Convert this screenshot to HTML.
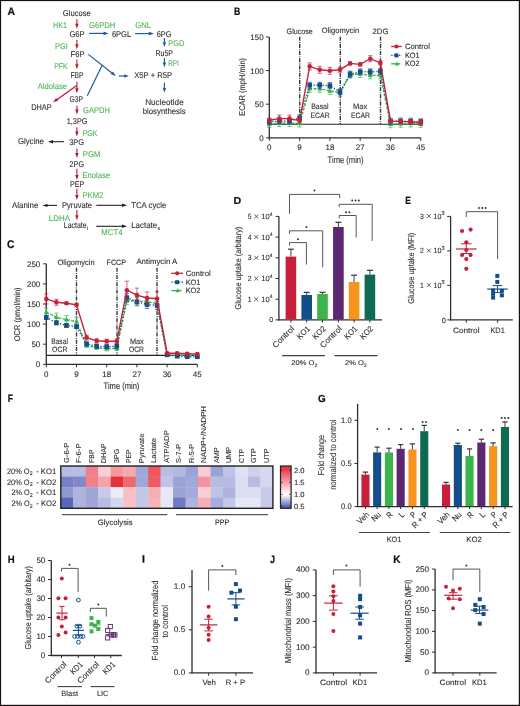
<!DOCTYPE html>
<html><head><meta charset="utf-8"><title>Figure</title>
<style>
html,body{margin:0;padding:0;background:#fff;}
body{width:520px;height:706px;overflow:hidden;}
svg{display:block;will-change:transform;font-family:"Liberation Sans",sans-serif;text-rendering:geometricPrecision;}
</style></head><body>
<svg width="520" height="706" viewBox="0 0 520 706">
<rect x="0" y="0" width="520" height="706" fill="#fff"/>
<text x="7.4" y="15.3" font-size="10.89" font-weight="bold" fill="#111" stroke="#111" stroke-width="0.2" textLength="7.5" lengthAdjust="spacingAndGlyphs">A</text>
<text x="62.8" y="15.7" font-size="8.4" fill="#2e2e2e" textLength="28" lengthAdjust="spacingAndGlyphs" stroke="#2e2e2e" stroke-width="0.1">Glucose</text>
<text x="69.4" y="36.5" font-size="8.4" fill="#2e2e2e" textLength="15.2" lengthAdjust="spacingAndGlyphs" stroke="#2e2e2e" stroke-width="0.1">G6P</text>
<text x="111.9" y="36.6" font-size="8.4" fill="#2e2e2e" textLength="19.3" lengthAdjust="spacingAndGlyphs" stroke="#2e2e2e" stroke-width="0.1">6PGL</text>
<text x="156.7" y="36.6" font-size="8.4" fill="#2e2e2e" textLength="14.8" lengthAdjust="spacingAndGlyphs" stroke="#2e2e2e" stroke-width="0.1">6PG</text>
<text x="155.4" y="56.3" font-size="8.4" fill="#2e2e2e" textLength="17.6" lengthAdjust="spacingAndGlyphs" stroke="#2e2e2e" stroke-width="0.1">Ru5P</text>
<text x="70.5" y="57" font-size="8.4" fill="#2e2e2e" textLength="14.1" lengthAdjust="spacingAndGlyphs" stroke="#2e2e2e" stroke-width="0.1">F6P</text>
<text x="70.4" y="77.9" font-size="8.4" fill="#2e2e2e" textLength="13.1" lengthAdjust="spacingAndGlyphs" stroke="#2e2e2e" stroke-width="0.1">FBP</text>
<text x="69.6" y="101.9" font-size="8.4" fill="#2e2e2e" textLength="13.5" lengthAdjust="spacingAndGlyphs" stroke="#2e2e2e" stroke-width="0.1">G3P</text>
<text x="31.2" y="110" font-size="8.4" fill="#2e2e2e" textLength="20.5" lengthAdjust="spacingAndGlyphs" stroke="#2e2e2e" stroke-width="0.1">DHAP</text>
<text x="134.2" y="78.3" font-size="8.4" fill="#2e2e2e" textLength="37.9" lengthAdjust="spacingAndGlyphs" stroke="#2e2e2e" stroke-width="0.1">X5P + R5P</text>
<text x="145.2" y="104.8" font-size="8.4" fill="#2e2e2e" textLength="38.5" lengthAdjust="spacingAndGlyphs" stroke="#2e2e2e" stroke-width="0.1">Nucleotide</text>
<text x="142.7" y="113.9" font-size="8.4" fill="#2e2e2e" textLength="42.9" lengthAdjust="spacingAndGlyphs" stroke="#2e2e2e" stroke-width="0.1">biosynthesis</text>
<text x="66.7" y="123.5" font-size="8.4" fill="#2e2e2e" textLength="20.8" lengthAdjust="spacingAndGlyphs" stroke="#2e2e2e" stroke-width="0.1">1,3PG</text>
<text x="69.2" y="145.2" font-size="8.4" fill="#2e2e2e" textLength="14.8" lengthAdjust="spacingAndGlyphs" stroke="#2e2e2e" stroke-width="0.1">3PG</text>
<text x="17.9" y="143.7" font-size="8.4" fill="#2e2e2e" textLength="25.9" lengthAdjust="spacingAndGlyphs" stroke="#2e2e2e" stroke-width="0.1">Glycine</text>
<text x="69.6" y="166.7" font-size="8.4" fill="#2e2e2e" textLength="14.4" lengthAdjust="spacingAndGlyphs" stroke="#2e2e2e" stroke-width="0.1">2PG</text>
<text x="70" y="186.8" font-size="8.4" fill="#2e2e2e" textLength="14.3" lengthAdjust="spacingAndGlyphs" stroke="#2e2e2e" stroke-width="0.1">PEP</text>
<text x="62" y="208.3" font-size="8.4" fill="#2e2e2e" textLength="30" lengthAdjust="spacingAndGlyphs" stroke="#2e2e2e" stroke-width="0.1">Pyruvate</text>
<text x="12" y="208.1" font-size="8.4" fill="#2e2e2e" textLength="26.3" lengthAdjust="spacingAndGlyphs" stroke="#2e2e2e" stroke-width="0.1">Alanine</text>
<text x="131.2" y="208.1" font-size="8.4" fill="#2e2e2e" textLength="35.1" lengthAdjust="spacingAndGlyphs" stroke="#2e2e2e" stroke-width="0.1">TCA cycle</text>
<text x="63.8" y="228.4" font-size="8.4" fill="#2e2e2e" textLength="22.8" lengthAdjust="spacingAndGlyphs" stroke="#2e2e2e" stroke-width="0.1">Lactate</text>
<text x="131.2" y="228.2" font-size="8.4" fill="#2e2e2e" textLength="26" lengthAdjust="spacingAndGlyphs" stroke="#2e2e2e" stroke-width="0.1">Lactate</text>
<text x="86.8" y="230.2" font-size="5" fill="#2e2e2e" text-anchor="start" stroke="#2e2e2e" stroke-width="0.1">i</text>
<text x="157.4" y="229.9" font-size="5" fill="#2e2e2e" text-anchor="start" stroke="#2e2e2e" stroke-width="0.1">e</text>
<text x="53.1" y="28" font-size="8.4" fill="#4db654" textLength="13.8" lengthAdjust="spacingAndGlyphs" stroke="#4db654" stroke-width="0.1">HK1</text>
<text x="89" y="28" font-size="8.4" fill="#4db654" textLength="26.4" lengthAdjust="spacingAndGlyphs" stroke="#4db654" stroke-width="0.1">G6PDH</text>
<text x="135.2" y="28.2" font-size="8.4" fill="#4db654" textLength="15.8" lengthAdjust="spacingAndGlyphs" stroke="#4db654" stroke-width="0.1">GNL</text>
<text x="168.3" y="45.6" font-size="8.4" fill="#4db654" textLength="15.9" lengthAdjust="spacingAndGlyphs" stroke="#4db654" stroke-width="0.1">PGD</text>
<text x="55" y="48.8" font-size="8.4" fill="#4db654" textLength="12.7" lengthAdjust="spacingAndGlyphs" stroke="#4db654" stroke-width="0.1">PGI</text>
<text x="54.2" y="68.7" font-size="8.4" fill="#4db654" textLength="13.3" lengthAdjust="spacingAndGlyphs" stroke="#4db654" stroke-width="0.1">PFK</text>
<text x="37.7" y="89.4" font-size="8.4" fill="#4db654" textLength="29.4" lengthAdjust="spacingAndGlyphs" stroke="#4db654" stroke-width="0.1">Aldolase</text>
<text x="83.1" y="112.9" font-size="8.4" fill="#4db654" textLength="26.9" lengthAdjust="spacingAndGlyphs" stroke="#4db654" stroke-width="0.1">GAPDH</text>
<text x="168.3" y="66.3" font-size="8.4" fill="#4db654" textLength="10.5" lengthAdjust="spacingAndGlyphs" stroke="#4db654" stroke-width="0.1">RPI</text>
<text x="82.7" y="136" font-size="8.4" fill="#4db654" textLength="14.8" lengthAdjust="spacingAndGlyphs" stroke="#4db654" stroke-width="0.1">PGK</text>
<text x="82.7" y="156.7" font-size="8.4" fill="#4db654" textLength="17.8" lengthAdjust="spacingAndGlyphs" stroke="#4db654" stroke-width="0.1">PGM</text>
<text x="82.5" y="177.5" font-size="8.4" fill="#4db654" textLength="27.5" lengthAdjust="spacingAndGlyphs" stroke="#4db654" stroke-width="0.1">Enolase</text>
<text x="82.5" y="198" font-size="8.4" fill="#4db654" textLength="20.8" lengthAdjust="spacingAndGlyphs" stroke="#4db654" stroke-width="0.1">PKM2</text>
<text x="48.8" y="220.5" font-size="8.4" fill="#4db654" textLength="21.2" lengthAdjust="spacingAndGlyphs" stroke="#4db654" stroke-width="0.1">LDHA</text>
<text x="101.3" y="235.3" font-size="8.4" fill="#4db654" textLength="21.2" lengthAdjust="spacingAndGlyphs" stroke="#4db654" stroke-width="0.1">MCT4</text>
<line x1="76.9" y1="19.2" x2="76.9" y2="24.3" stroke="#c8103a" stroke-width="1.1"/>
<polygon points="76.9,28.8 75.2,23.8 78.6,23.8" fill="#c8103a"/>
<line x1="76.9" y1="39.7" x2="76.9" y2="44.7" stroke="#c8103a" stroke-width="1.1"/>
<polygon points="76.9,49.2 75.2,44.2 78.6,44.2" fill="#c8103a"/>
<line x1="76.9" y1="59.6" x2="76.9" y2="64.7" stroke="#c8103a" stroke-width="1.1"/>
<polygon points="76.9,69.2 75.2,64.2 78.6,64.2" fill="#c8103a"/>
<line x1="76.9" y1="81.7" x2="76.9" y2="88.8" stroke="#c8103a" stroke-width="1.1"/>
<polygon points="76.9,93.3 75.2,88.3 78.6,88.3" fill="#c8103a"/>
<line x1="76.9" y1="105.8" x2="76.9" y2="110.1" stroke="#c8103a" stroke-width="1.1"/>
<polygon points="76.9,114.6 75.2,109.6 78.6,109.6" fill="#c8103a"/>
<line x1="76.9" y1="127.3" x2="76.9" y2="132" stroke="#c8103a" stroke-width="1.1"/>
<polygon points="76.9,136.5 75.2,131.5 78.6,131.5" fill="#c8103a"/>
<line x1="76.9" y1="148.5" x2="76.9" y2="153.5" stroke="#c8103a" stroke-width="1.1"/>
<polygon points="76.9,158 75.2,153 78.6,153" fill="#c8103a"/>
<line x1="76.9" y1="168.8" x2="76.9" y2="175.5" stroke="#c8103a" stroke-width="1.1"/>
<polygon points="76.9,180 75.2,175 78.6,175" fill="#c8103a"/>
<line x1="76.9" y1="188.8" x2="76.9" y2="195.5" stroke="#c8103a" stroke-width="1.1"/>
<polygon points="76.9,200 75.2,195 78.6,195" fill="#c8103a"/>
<line x1="76.9" y1="210" x2="76.9" y2="215.7" stroke="#c8103a" stroke-width="1.1"/>
<polygon points="76.9,220.2 75.2,215.2 78.6,215.2" fill="#c8103a"/>
<line x1="76.7" y1="85.4" x2="56.76" y2="99.68" stroke="#c8103a" stroke-width="1.2"/>
<polygon points="53.1,102.3 56.12,97.93 58.21,100.85" fill="#c8103a"/>
<line x1="89" y1="33.4" x2="104" y2="33.4" stroke="#1f5c9c" stroke-width="1.2"/>
<polygon points="108.5,33.4 103.5,35.2 103.5,31.6" fill="#1f5c9c"/>
<line x1="135.2" y1="33.6" x2="149.3" y2="33.6" stroke="#1f5c9c" stroke-width="1.2"/>
<polygon points="153.8,33.6 148.8,35.4 148.8,31.8" fill="#1f5c9c"/>
<line x1="164.4" y1="37.9" x2="164.4" y2="42.7" stroke="#1f5c9c" stroke-width="1.2"/>
<polygon points="164.4,47 162.7,42.2 166.1,42.2" fill="#1f5c9c"/>
<line x1="164.4" y1="58" x2="164.4" y2="63" stroke="#1f5c9c" stroke-width="1.2"/>
<polygon points="164.4,67.3 162.7,62.5 166.1,62.5" fill="#1f5c9c"/>
<line x1="164.4" y1="82.7" x2="164.4" y2="88.4" stroke="#1f5c9c" stroke-width="1.2"/>
<polygon points="164.4,92.7 162.7,87.9 166.1,87.9" fill="#1f5c9c"/>
<line x1="88.3" y1="54.4" x2="112.26" y2="73.22" stroke="#1f5c9c" stroke-width="1.2"/>
<polygon points="115.8,76 110.76,74.33 112.98,71.5" fill="#1f5c9c"/>
<line x1="87.3" y1="95.8" x2="102" y2="65.5" stroke="#1f5c9c" stroke-width="1.2"/>
<line x1="118.8" y1="76" x2="124.7" y2="76" stroke="#1f5c9c" stroke-width="1.2"/>
<polygon points="128.8,76 124.2,77.7 124.2,74.3" fill="#1f5c9c"/>
<line x1="64" y1="141.7" x2="52.5" y2="141.7" stroke="#222" stroke-width="1.1"/>
<polygon points="48,141.7 53,140 53,143.4" fill="#222"/>
<line x1="57" y1="205.4" x2="47" y2="205.4" stroke="#222" stroke-width="1.1"/>
<polygon points="42.5,205.4 47.5,203.7 47.5,207.1" fill="#222"/>
<line x1="96.3" y1="205.3" x2="122.5" y2="205.3" stroke="#222" stroke-width="1.1"/>
<polygon points="127,205.3 122,207 122,203.6" fill="#222"/>
<line x1="96.3" y1="226.3" x2="122.5" y2="226.3" stroke="#222" stroke-width="1.1"/>
<polygon points="127,226.3 122,228 122,224.6" fill="#222"/>
<text x="233.9" y="15" font-size="10.89" font-weight="bold" fill="#111" stroke="#111" stroke-width="0.2" textLength="6.3" lengthAdjust="spacingAndGlyphs">B</text>
<line x1="269.3" y1="37" x2="269.3" y2="138.3" stroke="#2e2e2e" stroke-width="1.3"/>
<line x1="268.8" y1="137.8" x2="421" y2="137.8" stroke="#2e2e2e" stroke-width="1.3"/>
<line x1="266.1" y1="137.8" x2="269.3" y2="137.8" stroke="#2e2e2e" stroke-width="1"/>
<text x="263.6" y="140.7" font-size="8" fill="#2e2e2e" text-anchor="end" stroke="#2e2e2e" stroke-width="0.1">0</text>
<line x1="266.1" y1="104.2" x2="269.3" y2="104.2" stroke="#2e2e2e" stroke-width="1"/>
<text x="263.6" y="107.1" font-size="8" fill="#2e2e2e" text-anchor="end" stroke="#2e2e2e" stroke-width="0.1">50</text>
<line x1="266.1" y1="70.6" x2="269.3" y2="70.6" stroke="#2e2e2e" stroke-width="1"/>
<text x="263.6" y="73.5" font-size="8" fill="#2e2e2e" text-anchor="end" stroke="#2e2e2e" stroke-width="0.1">100</text>
<line x1="266.1" y1="37" x2="269.3" y2="37" stroke="#2e2e2e" stroke-width="1"/>
<text x="263.6" y="39.9" font-size="8" fill="#2e2e2e" text-anchor="end" stroke="#2e2e2e" stroke-width="0.1">150</text>
<line x1="269.3" y1="137.8" x2="269.3" y2="140.8" stroke="#2e2e2e" stroke-width="1"/>
<text x="269.3" y="149.7" font-size="8" fill="#2e2e2e" text-anchor="middle" stroke="#2e2e2e" stroke-width="0.1">0</text>
<line x1="299.6" y1="137.8" x2="299.6" y2="140.8" stroke="#2e2e2e" stroke-width="1"/>
<text x="299.6" y="149.7" font-size="8" fill="#2e2e2e" text-anchor="middle" stroke="#2e2e2e" stroke-width="0.1">9</text>
<line x1="329.9" y1="137.8" x2="329.9" y2="140.8" stroke="#2e2e2e" stroke-width="1"/>
<text x="329.9" y="149.7" font-size="8" fill="#2e2e2e" text-anchor="middle" stroke="#2e2e2e" stroke-width="0.1">18</text>
<line x1="360.2" y1="137.8" x2="360.2" y2="140.8" stroke="#2e2e2e" stroke-width="1"/>
<text x="360.2" y="149.7" font-size="8" fill="#2e2e2e" text-anchor="middle" stroke="#2e2e2e" stroke-width="0.1">27</text>
<line x1="390.5" y1="137.8" x2="390.5" y2="140.8" stroke="#2e2e2e" stroke-width="1"/>
<text x="390.5" y="149.7" font-size="8" fill="#2e2e2e" text-anchor="middle" stroke="#2e2e2e" stroke-width="0.1">36</text>
<line x1="420.8" y1="137.8" x2="420.8" y2="140.8" stroke="#2e2e2e" stroke-width="1"/>
<text x="420.8" y="149.7" font-size="8" fill="#2e2e2e" text-anchor="middle" stroke="#2e2e2e" stroke-width="0.1">45</text>
<text x="327.6" y="163" font-size="9.4" fill="#2e2e2e" textLength="36" lengthAdjust="spacingAndGlyphs" stroke="#2e2e2e" stroke-width="0.1">Time (min)</text>
<g transform="translate(244.9,86.9) rotate(-90)"><text x="-28.95" y="0" font-size="8.4" fill="#2e2e2e" stroke="#2e2e2e" stroke-width="0.1" textLength="57.9" lengthAdjust="spacingAndGlyphs">ECAR (mpH/min)</text></g>
<line x1="269.3" y1="124.2" x2="421" y2="124.2" stroke="#222" stroke-width="1.1"/>
<line x1="299.7" y1="36.7" x2="299.7" y2="124" stroke="#3a3a3a" stroke-width="1.4" stroke-dasharray="4,1.3,0.9,1"/>
<line x1="340.3" y1="36.7" x2="340.3" y2="124" stroke="#3a3a3a" stroke-width="1.4" stroke-dasharray="4,1.3,0.9,1"/>
<line x1="380.5" y1="36.7" x2="380.5" y2="124" stroke="#3a3a3a" stroke-width="1.4" stroke-dasharray="4,1.3,0.9,1"/>
<text x="286.6" y="33.7" font-size="7.8" fill="#2e2e2e" textLength="26.1" lengthAdjust="spacingAndGlyphs" stroke="#2e2e2e" stroke-width="0.1">Glucose</text>
<text x="321.7" y="33.3" font-size="7.8" fill="#2e2e2e" textLength="37.5" lengthAdjust="spacingAndGlyphs" stroke="#2e2e2e" stroke-width="0.1">Oligomycin</text>
<text x="372.5" y="33.8" font-size="7.8" fill="#2e2e2e" textLength="15.9" lengthAdjust="spacingAndGlyphs" stroke="#2e2e2e" stroke-width="0.1">2DG</text>
<text x="311.2" y="109.3" font-size="7.8" fill="#2e2e2e" textLength="17.3" lengthAdjust="spacingAndGlyphs" stroke="#2e2e2e" stroke-width="0.1">Basal</text>
<text x="310.5" y="117.7" font-size="7.8" fill="#2e2e2e" textLength="19.1" lengthAdjust="spacingAndGlyphs" stroke="#2e2e2e" stroke-width="0.1">ECAR</text>
<text x="353" y="109.3" font-size="7.8" fill="#2e2e2e" textLength="14.2" lengthAdjust="spacingAndGlyphs" stroke="#2e2e2e" stroke-width="0.1">Max</text>
<text x="350.9" y="117.7" font-size="7.8" fill="#2e2e2e" textLength="19.1" lengthAdjust="spacingAndGlyphs" stroke="#2e2e2e" stroke-width="0.1">ECAR</text>
<polyline points="269.3,124 279.4,123 289.5,123 299.6,123.5 309.7,88.8 319.8,88.8 329.9,90.9 340,93 350.1,74.6 360.2,74 370.3,75.4 380.4,75.4 390.5,124.2 400.6,123.8 410.7,123.5 420.8,123.8" fill="none" stroke="#3bb54a" stroke-width="1.4" stroke-dasharray="3,1.4"/>
<line x1="269.3" y1="120.5" x2="269.3" y2="127.5" stroke="#3bb54a" stroke-width="0.9" opacity="0.75"/>
<line x1="267.1" y1="120.5" x2="271.5" y2="120.5" stroke="#3bb54a" stroke-width="0.9" opacity="0.75"/>
<line x1="267.1" y1="127.5" x2="271.5" y2="127.5" stroke="#3bb54a" stroke-width="0.9" opacity="0.75"/>
<line x1="279.4" y1="119.5" x2="279.4" y2="126.5" stroke="#3bb54a" stroke-width="0.9" opacity="0.75"/>
<line x1="277.2" y1="119.5" x2="281.6" y2="119.5" stroke="#3bb54a" stroke-width="0.9" opacity="0.75"/>
<line x1="277.2" y1="126.5" x2="281.6" y2="126.5" stroke="#3bb54a" stroke-width="0.9" opacity="0.75"/>
<line x1="289.5" y1="119.5" x2="289.5" y2="126.5" stroke="#3bb54a" stroke-width="0.9" opacity="0.75"/>
<line x1="287.3" y1="119.5" x2="291.7" y2="119.5" stroke="#3bb54a" stroke-width="0.9" opacity="0.75"/>
<line x1="287.3" y1="126.5" x2="291.7" y2="126.5" stroke="#3bb54a" stroke-width="0.9" opacity="0.75"/>
<line x1="299.6" y1="120" x2="299.6" y2="127" stroke="#3bb54a" stroke-width="0.9" opacity="0.75"/>
<line x1="297.4" y1="120" x2="301.8" y2="120" stroke="#3bb54a" stroke-width="0.9" opacity="0.75"/>
<line x1="297.4" y1="127" x2="301.8" y2="127" stroke="#3bb54a" stroke-width="0.9" opacity="0.75"/>
<line x1="309.7" y1="85.3" x2="309.7" y2="92.3" stroke="#3bb54a" stroke-width="0.9" opacity="0.75"/>
<line x1="307.5" y1="85.3" x2="311.9" y2="85.3" stroke="#3bb54a" stroke-width="0.9" opacity="0.75"/>
<line x1="307.5" y1="92.3" x2="311.9" y2="92.3" stroke="#3bb54a" stroke-width="0.9" opacity="0.75"/>
<line x1="319.8" y1="85.3" x2="319.8" y2="92.3" stroke="#3bb54a" stroke-width="0.9" opacity="0.75"/>
<line x1="317.6" y1="85.3" x2="322" y2="85.3" stroke="#3bb54a" stroke-width="0.9" opacity="0.75"/>
<line x1="317.6" y1="92.3" x2="322" y2="92.3" stroke="#3bb54a" stroke-width="0.9" opacity="0.75"/>
<line x1="329.9" y1="87.4" x2="329.9" y2="94.4" stroke="#3bb54a" stroke-width="0.9" opacity="0.75"/>
<line x1="327.7" y1="87.4" x2="332.1" y2="87.4" stroke="#3bb54a" stroke-width="0.9" opacity="0.75"/>
<line x1="327.7" y1="94.4" x2="332.1" y2="94.4" stroke="#3bb54a" stroke-width="0.9" opacity="0.75"/>
<line x1="340" y1="89.5" x2="340" y2="96.5" stroke="#3bb54a" stroke-width="0.9" opacity="0.75"/>
<line x1="337.8" y1="89.5" x2="342.2" y2="89.5" stroke="#3bb54a" stroke-width="0.9" opacity="0.75"/>
<line x1="337.8" y1="96.5" x2="342.2" y2="96.5" stroke="#3bb54a" stroke-width="0.9" opacity="0.75"/>
<line x1="350.1" y1="71.1" x2="350.1" y2="78.1" stroke="#3bb54a" stroke-width="0.9" opacity="0.75"/>
<line x1="347.9" y1="71.1" x2="352.3" y2="71.1" stroke="#3bb54a" stroke-width="0.9" opacity="0.75"/>
<line x1="347.9" y1="78.1" x2="352.3" y2="78.1" stroke="#3bb54a" stroke-width="0.9" opacity="0.75"/>
<line x1="360.2" y1="70.5" x2="360.2" y2="77.5" stroke="#3bb54a" stroke-width="0.9" opacity="0.75"/>
<line x1="358" y1="70.5" x2="362.4" y2="70.5" stroke="#3bb54a" stroke-width="0.9" opacity="0.75"/>
<line x1="358" y1="77.5" x2="362.4" y2="77.5" stroke="#3bb54a" stroke-width="0.9" opacity="0.75"/>
<line x1="370.3" y1="71.9" x2="370.3" y2="78.9" stroke="#3bb54a" stroke-width="0.9" opacity="0.75"/>
<line x1="368.1" y1="71.9" x2="372.5" y2="71.9" stroke="#3bb54a" stroke-width="0.9" opacity="0.75"/>
<line x1="368.1" y1="78.9" x2="372.5" y2="78.9" stroke="#3bb54a" stroke-width="0.9" opacity="0.75"/>
<line x1="380.4" y1="71.9" x2="380.4" y2="78.9" stroke="#3bb54a" stroke-width="0.9" opacity="0.75"/>
<line x1="378.2" y1="71.9" x2="382.6" y2="71.9" stroke="#3bb54a" stroke-width="0.9" opacity="0.75"/>
<line x1="378.2" y1="78.9" x2="382.6" y2="78.9" stroke="#3bb54a" stroke-width="0.9" opacity="0.75"/>
<line x1="390.5" y1="120.7" x2="390.5" y2="127.7" stroke="#3bb54a" stroke-width="0.9" opacity="0.75"/>
<line x1="388.3" y1="120.7" x2="392.7" y2="120.7" stroke="#3bb54a" stroke-width="0.9" opacity="0.75"/>
<line x1="388.3" y1="127.7" x2="392.7" y2="127.7" stroke="#3bb54a" stroke-width="0.9" opacity="0.75"/>
<line x1="400.6" y1="120.3" x2="400.6" y2="127.3" stroke="#3bb54a" stroke-width="0.9" opacity="0.75"/>
<line x1="398.4" y1="120.3" x2="402.8" y2="120.3" stroke="#3bb54a" stroke-width="0.9" opacity="0.75"/>
<line x1="398.4" y1="127.3" x2="402.8" y2="127.3" stroke="#3bb54a" stroke-width="0.9" opacity="0.75"/>
<line x1="410.7" y1="120" x2="410.7" y2="127" stroke="#3bb54a" stroke-width="0.9" opacity="0.75"/>
<line x1="408.5" y1="120" x2="412.9" y2="120" stroke="#3bb54a" stroke-width="0.9" opacity="0.75"/>
<line x1="408.5" y1="127" x2="412.9" y2="127" stroke="#3bb54a" stroke-width="0.9" opacity="0.75"/>
<line x1="420.8" y1="120.3" x2="420.8" y2="127.3" stroke="#3bb54a" stroke-width="0.9" opacity="0.75"/>
<line x1="418.6" y1="120.3" x2="423" y2="120.3" stroke="#3bb54a" stroke-width="0.9" opacity="0.75"/>
<line x1="418.6" y1="127.3" x2="423" y2="127.3" stroke="#3bb54a" stroke-width="0.9" opacity="0.75"/>
<polygon points="269.3,121.27 266.77,125.82 271.83,125.82" fill="#3bb54a"/>
<polygon points="279.4,120.27 276.87,124.82 281.93,124.82" fill="#3bb54a"/>
<polygon points="289.5,120.27 286.97,124.82 292.03,124.82" fill="#3bb54a"/>
<polygon points="299.6,120.77 297.07,125.32 302.13,125.32" fill="#3bb54a"/>
<polygon points="309.7,86.07 307.17,90.62 312.23,90.62" fill="#3bb54a"/>
<polygon points="319.8,86.07 317.27,90.62 322.33,90.62" fill="#3bb54a"/>
<polygon points="329.9,88.17 327.37,92.72 332.43,92.72" fill="#3bb54a"/>
<polygon points="340,90.27 337.47,94.82 342.53,94.82" fill="#3bb54a"/>
<polygon points="350.1,71.87 347.57,76.42 352.63,76.42" fill="#3bb54a"/>
<polygon points="360.2,71.27 357.67,75.82 362.73,75.82" fill="#3bb54a"/>
<polygon points="370.3,72.67 367.77,77.22 372.83,77.22" fill="#3bb54a"/>
<polygon points="380.4,72.67 377.87,77.22 382.93,77.22" fill="#3bb54a"/>
<polygon points="390.5,121.47 387.97,126.02 393.03,126.02" fill="#3bb54a"/>
<polygon points="400.6,121.07 398.07,125.62 403.13,125.62" fill="#3bb54a"/>
<polygon points="410.7,120.77 408.17,125.32 413.23,125.32" fill="#3bb54a"/>
<polygon points="420.8,121.07 418.27,125.62 423.33,125.62" fill="#3bb54a"/>
<polyline points="269.3,121.8 279.4,121 289.5,121 299.6,118 309.7,85.2 319.8,85.2 329.9,85.6 340,91.9 350.1,74.4 360.2,71.8 370.3,71.8 380.4,71.4 390.5,121.2 400.6,121 410.7,121.2 420.8,121.8" fill="none" stroke="#134e8a" stroke-width="1.4" stroke-dasharray="1.2,1.8"/>
<line x1="269.3" y1="118.8" x2="269.3" y2="124.8" stroke="#134e8a" stroke-width="0.9" opacity="0.75"/>
<line x1="267.1" y1="118.8" x2="271.5" y2="118.8" stroke="#134e8a" stroke-width="0.9" opacity="0.75"/>
<line x1="267.1" y1="124.8" x2="271.5" y2="124.8" stroke="#134e8a" stroke-width="0.9" opacity="0.75"/>
<line x1="279.4" y1="118" x2="279.4" y2="124" stroke="#134e8a" stroke-width="0.9" opacity="0.75"/>
<line x1="277.2" y1="118" x2="281.6" y2="118" stroke="#134e8a" stroke-width="0.9" opacity="0.75"/>
<line x1="277.2" y1="124" x2="281.6" y2="124" stroke="#134e8a" stroke-width="0.9" opacity="0.75"/>
<line x1="289.5" y1="118" x2="289.5" y2="124" stroke="#134e8a" stroke-width="0.9" opacity="0.75"/>
<line x1="287.3" y1="118" x2="291.7" y2="118" stroke="#134e8a" stroke-width="0.9" opacity="0.75"/>
<line x1="287.3" y1="124" x2="291.7" y2="124" stroke="#134e8a" stroke-width="0.9" opacity="0.75"/>
<line x1="299.6" y1="115" x2="299.6" y2="121" stroke="#134e8a" stroke-width="0.9" opacity="0.75"/>
<line x1="297.4" y1="115" x2="301.8" y2="115" stroke="#134e8a" stroke-width="0.9" opacity="0.75"/>
<line x1="297.4" y1="121" x2="301.8" y2="121" stroke="#134e8a" stroke-width="0.9" opacity="0.75"/>
<line x1="309.7" y1="82.2" x2="309.7" y2="88.2" stroke="#134e8a" stroke-width="0.9" opacity="0.75"/>
<line x1="307.5" y1="82.2" x2="311.9" y2="82.2" stroke="#134e8a" stroke-width="0.9" opacity="0.75"/>
<line x1="307.5" y1="88.2" x2="311.9" y2="88.2" stroke="#134e8a" stroke-width="0.9" opacity="0.75"/>
<line x1="319.8" y1="82.2" x2="319.8" y2="88.2" stroke="#134e8a" stroke-width="0.9" opacity="0.75"/>
<line x1="317.6" y1="82.2" x2="322" y2="82.2" stroke="#134e8a" stroke-width="0.9" opacity="0.75"/>
<line x1="317.6" y1="88.2" x2="322" y2="88.2" stroke="#134e8a" stroke-width="0.9" opacity="0.75"/>
<line x1="329.9" y1="82.6" x2="329.9" y2="88.6" stroke="#134e8a" stroke-width="0.9" opacity="0.75"/>
<line x1="327.7" y1="82.6" x2="332.1" y2="82.6" stroke="#134e8a" stroke-width="0.9" opacity="0.75"/>
<line x1="327.7" y1="88.6" x2="332.1" y2="88.6" stroke="#134e8a" stroke-width="0.9" opacity="0.75"/>
<line x1="340" y1="88.9" x2="340" y2="94.9" stroke="#134e8a" stroke-width="0.9" opacity="0.75"/>
<line x1="337.8" y1="88.9" x2="342.2" y2="88.9" stroke="#134e8a" stroke-width="0.9" opacity="0.75"/>
<line x1="337.8" y1="94.9" x2="342.2" y2="94.9" stroke="#134e8a" stroke-width="0.9" opacity="0.75"/>
<line x1="350.1" y1="71.4" x2="350.1" y2="77.4" stroke="#134e8a" stroke-width="0.9" opacity="0.75"/>
<line x1="347.9" y1="71.4" x2="352.3" y2="71.4" stroke="#134e8a" stroke-width="0.9" opacity="0.75"/>
<line x1="347.9" y1="77.4" x2="352.3" y2="77.4" stroke="#134e8a" stroke-width="0.9" opacity="0.75"/>
<line x1="360.2" y1="68.8" x2="360.2" y2="74.8" stroke="#134e8a" stroke-width="0.9" opacity="0.75"/>
<line x1="358" y1="68.8" x2="362.4" y2="68.8" stroke="#134e8a" stroke-width="0.9" opacity="0.75"/>
<line x1="358" y1="74.8" x2="362.4" y2="74.8" stroke="#134e8a" stroke-width="0.9" opacity="0.75"/>
<line x1="370.3" y1="68.8" x2="370.3" y2="74.8" stroke="#134e8a" stroke-width="0.9" opacity="0.75"/>
<line x1="368.1" y1="68.8" x2="372.5" y2="68.8" stroke="#134e8a" stroke-width="0.9" opacity="0.75"/>
<line x1="368.1" y1="74.8" x2="372.5" y2="74.8" stroke="#134e8a" stroke-width="0.9" opacity="0.75"/>
<line x1="380.4" y1="68.4" x2="380.4" y2="74.4" stroke="#134e8a" stroke-width="0.9" opacity="0.75"/>
<line x1="378.2" y1="68.4" x2="382.6" y2="68.4" stroke="#134e8a" stroke-width="0.9" opacity="0.75"/>
<line x1="378.2" y1="74.4" x2="382.6" y2="74.4" stroke="#134e8a" stroke-width="0.9" opacity="0.75"/>
<line x1="390.5" y1="118.2" x2="390.5" y2="124.2" stroke="#134e8a" stroke-width="0.9" opacity="0.75"/>
<line x1="388.3" y1="118.2" x2="392.7" y2="118.2" stroke="#134e8a" stroke-width="0.9" opacity="0.75"/>
<line x1="388.3" y1="124.2" x2="392.7" y2="124.2" stroke="#134e8a" stroke-width="0.9" opacity="0.75"/>
<line x1="400.6" y1="118" x2="400.6" y2="124" stroke="#134e8a" stroke-width="0.9" opacity="0.75"/>
<line x1="398.4" y1="118" x2="402.8" y2="118" stroke="#134e8a" stroke-width="0.9" opacity="0.75"/>
<line x1="398.4" y1="124" x2="402.8" y2="124" stroke="#134e8a" stroke-width="0.9" opacity="0.75"/>
<line x1="410.7" y1="118.2" x2="410.7" y2="124.2" stroke="#134e8a" stroke-width="0.9" opacity="0.75"/>
<line x1="408.5" y1="118.2" x2="412.9" y2="118.2" stroke="#134e8a" stroke-width="0.9" opacity="0.75"/>
<line x1="408.5" y1="124.2" x2="412.9" y2="124.2" stroke="#134e8a" stroke-width="0.9" opacity="0.75"/>
<line x1="420.8" y1="118.8" x2="420.8" y2="124.8" stroke="#134e8a" stroke-width="0.9" opacity="0.75"/>
<line x1="418.6" y1="118.8" x2="423" y2="118.8" stroke="#134e8a" stroke-width="0.9" opacity="0.75"/>
<line x1="418.6" y1="124.8" x2="423" y2="124.8" stroke="#134e8a" stroke-width="0.9" opacity="0.75"/>
<rect x="267" y="119.5" width="4.6" height="4.6" fill="#134e8a"/>
<rect x="277.1" y="118.7" width="4.6" height="4.6" fill="#134e8a"/>
<rect x="287.2" y="118.7" width="4.6" height="4.6" fill="#134e8a"/>
<rect x="297.3" y="115.7" width="4.6" height="4.6" fill="#134e8a"/>
<rect x="307.4" y="82.9" width="4.6" height="4.6" fill="#134e8a"/>
<rect x="317.5" y="82.9" width="4.6" height="4.6" fill="#134e8a"/>
<rect x="327.6" y="83.3" width="4.6" height="4.6" fill="#134e8a"/>
<rect x="337.7" y="89.6" width="4.6" height="4.6" fill="#134e8a"/>
<rect x="347.8" y="72.1" width="4.6" height="4.6" fill="#134e8a"/>
<rect x="357.9" y="69.5" width="4.6" height="4.6" fill="#134e8a"/>
<rect x="368" y="69.5" width="4.6" height="4.6" fill="#134e8a"/>
<rect x="378.1" y="69.1" width="4.6" height="4.6" fill="#134e8a"/>
<rect x="388.2" y="118.9" width="4.6" height="4.6" fill="#134e8a"/>
<rect x="398.3" y="118.7" width="4.6" height="4.6" fill="#134e8a"/>
<rect x="408.4" y="118.9" width="4.6" height="4.6" fill="#134e8a"/>
<rect x="418.5" y="119.5" width="4.6" height="4.6" fill="#134e8a"/>
<polyline points="269.3,120.3 279.4,118.6 289.5,118.6 299.6,120.7 309.7,66.4 319.8,69.8 329.9,70.8 340,69.7 350.1,63.4 360.2,64.4 370.3,58.7 380.4,62.9 390.5,121.1 400.6,121.4 410.7,122 420.8,122.4" fill="none" stroke="#c8203a" stroke-width="1.4"/>
<line x1="269.3" y1="118.1" x2="269.3" y2="122.5" stroke="#c8203a" stroke-width="0.9" opacity="0.75"/>
<line x1="267.1" y1="118.1" x2="271.5" y2="118.1" stroke="#c8203a" stroke-width="0.9" opacity="0.75"/>
<line x1="267.1" y1="122.5" x2="271.5" y2="122.5" stroke="#c8203a" stroke-width="0.9" opacity="0.75"/>
<line x1="279.4" y1="115.1" x2="279.4" y2="122.1" stroke="#c8203a" stroke-width="0.9" opacity="0.75"/>
<line x1="277.2" y1="115.1" x2="281.6" y2="115.1" stroke="#c8203a" stroke-width="0.9" opacity="0.75"/>
<line x1="277.2" y1="122.1" x2="281.6" y2="122.1" stroke="#c8203a" stroke-width="0.9" opacity="0.75"/>
<line x1="289.5" y1="115.1" x2="289.5" y2="122.1" stroke="#c8203a" stroke-width="0.9" opacity="0.75"/>
<line x1="287.3" y1="115.1" x2="291.7" y2="115.1" stroke="#c8203a" stroke-width="0.9" opacity="0.75"/>
<line x1="287.3" y1="122.1" x2="291.7" y2="122.1" stroke="#c8203a" stroke-width="0.9" opacity="0.75"/>
<line x1="299.6" y1="118.2" x2="299.6" y2="123.2" stroke="#c8203a" stroke-width="0.9" opacity="0.75"/>
<line x1="297.4" y1="118.2" x2="301.8" y2="118.2" stroke="#c8203a" stroke-width="0.9" opacity="0.75"/>
<line x1="297.4" y1="123.2" x2="301.8" y2="123.2" stroke="#c8203a" stroke-width="0.9" opacity="0.75"/>
<line x1="309.7" y1="62.9" x2="309.7" y2="69.9" stroke="#c8203a" stroke-width="0.9" opacity="0.75"/>
<line x1="307.5" y1="62.9" x2="311.9" y2="62.9" stroke="#c8203a" stroke-width="0.9" opacity="0.75"/>
<line x1="307.5" y1="69.9" x2="311.9" y2="69.9" stroke="#c8203a" stroke-width="0.9" opacity="0.75"/>
<line x1="319.8" y1="66.3" x2="319.8" y2="73.3" stroke="#c8203a" stroke-width="0.9" opacity="0.75"/>
<line x1="317.6" y1="66.3" x2="322" y2="66.3" stroke="#c8203a" stroke-width="0.9" opacity="0.75"/>
<line x1="317.6" y1="73.3" x2="322" y2="73.3" stroke="#c8203a" stroke-width="0.9" opacity="0.75"/>
<line x1="329.9" y1="67.3" x2="329.9" y2="74.3" stroke="#c8203a" stroke-width="0.9" opacity="0.75"/>
<line x1="327.7" y1="67.3" x2="332.1" y2="67.3" stroke="#c8203a" stroke-width="0.9" opacity="0.75"/>
<line x1="327.7" y1="74.3" x2="332.1" y2="74.3" stroke="#c8203a" stroke-width="0.9" opacity="0.75"/>
<line x1="340" y1="67.2" x2="340" y2="72.2" stroke="#c8203a" stroke-width="0.9" opacity="0.75"/>
<line x1="337.8" y1="67.2" x2="342.2" y2="67.2" stroke="#c8203a" stroke-width="0.9" opacity="0.75"/>
<line x1="337.8" y1="72.2" x2="342.2" y2="72.2" stroke="#c8203a" stroke-width="0.9" opacity="0.75"/>
<line x1="350.1" y1="61.9" x2="350.1" y2="64.9" stroke="#c8203a" stroke-width="0.9" opacity="0.75"/>
<line x1="347.9" y1="61.9" x2="352.3" y2="61.9" stroke="#c8203a" stroke-width="0.9" opacity="0.75"/>
<line x1="347.9" y1="64.9" x2="352.3" y2="64.9" stroke="#c8203a" stroke-width="0.9" opacity="0.75"/>
<line x1="360.2" y1="62.9" x2="360.2" y2="65.9" stroke="#c8203a" stroke-width="0.9" opacity="0.75"/>
<line x1="358" y1="62.9" x2="362.4" y2="62.9" stroke="#c8203a" stroke-width="0.9" opacity="0.75"/>
<line x1="358" y1="65.9" x2="362.4" y2="65.9" stroke="#c8203a" stroke-width="0.9" opacity="0.75"/>
<line x1="370.3" y1="55.7" x2="370.3" y2="61.7" stroke="#c8203a" stroke-width="0.9" opacity="0.75"/>
<line x1="368.1" y1="55.7" x2="372.5" y2="55.7" stroke="#c8203a" stroke-width="0.9" opacity="0.75"/>
<line x1="368.1" y1="61.7" x2="372.5" y2="61.7" stroke="#c8203a" stroke-width="0.9" opacity="0.75"/>
<line x1="380.4" y1="60.9" x2="380.4" y2="64.9" stroke="#c8203a" stroke-width="0.9" opacity="0.75"/>
<line x1="378.2" y1="60.9" x2="382.6" y2="60.9" stroke="#c8203a" stroke-width="0.9" opacity="0.75"/>
<line x1="378.2" y1="64.9" x2="382.6" y2="64.9" stroke="#c8203a" stroke-width="0.9" opacity="0.75"/>
<line x1="390.5" y1="119.6" x2="390.5" y2="122.6" stroke="#c8203a" stroke-width="0.9" opacity="0.75"/>
<line x1="388.3" y1="119.6" x2="392.7" y2="119.6" stroke="#c8203a" stroke-width="0.9" opacity="0.75"/>
<line x1="388.3" y1="122.6" x2="392.7" y2="122.6" stroke="#c8203a" stroke-width="0.9" opacity="0.75"/>
<line x1="400.6" y1="119.4" x2="400.6" y2="123.4" stroke="#c8203a" stroke-width="0.9" opacity="0.75"/>
<line x1="398.4" y1="119.4" x2="402.8" y2="119.4" stroke="#c8203a" stroke-width="0.9" opacity="0.75"/>
<line x1="398.4" y1="123.4" x2="402.8" y2="123.4" stroke="#c8203a" stroke-width="0.9" opacity="0.75"/>
<line x1="410.7" y1="120" x2="410.7" y2="124" stroke="#c8203a" stroke-width="0.9" opacity="0.75"/>
<line x1="408.5" y1="120" x2="412.9" y2="120" stroke="#c8203a" stroke-width="0.9" opacity="0.75"/>
<line x1="408.5" y1="124" x2="412.9" y2="124" stroke="#c8203a" stroke-width="0.9" opacity="0.75"/>
<line x1="420.8" y1="119.4" x2="420.8" y2="125.4" stroke="#c8203a" stroke-width="0.9" opacity="0.75"/>
<line x1="418.6" y1="119.4" x2="423" y2="119.4" stroke="#c8203a" stroke-width="0.9" opacity="0.75"/>
<line x1="418.6" y1="125.4" x2="423" y2="125.4" stroke="#c8203a" stroke-width="0.9" opacity="0.75"/>
<circle cx="269.3" cy="120.3" r="2.3" fill="#c8203a"/>
<circle cx="279.4" cy="118.6" r="2.3" fill="#c8203a"/>
<circle cx="289.5" cy="118.6" r="2.3" fill="#c8203a"/>
<circle cx="299.6" cy="120.7" r="2.3" fill="#c8203a"/>
<circle cx="309.7" cy="66.4" r="2.3" fill="#c8203a"/>
<circle cx="319.8" cy="69.8" r="2.3" fill="#c8203a"/>
<circle cx="329.9" cy="70.8" r="2.3" fill="#c8203a"/>
<circle cx="340" cy="69.7" r="2.3" fill="#c8203a"/>
<circle cx="350.1" cy="63.4" r="2.3" fill="#c8203a"/>
<circle cx="360.2" cy="64.4" r="2.3" fill="#c8203a"/>
<circle cx="370.3" cy="58.7" r="2.3" fill="#c8203a"/>
<circle cx="380.4" cy="62.9" r="2.3" fill="#c8203a"/>
<circle cx="390.5" cy="121.1" r="2.3" fill="#c8203a"/>
<circle cx="400.6" cy="121.4" r="2.3" fill="#c8203a"/>
<circle cx="410.7" cy="122" r="2.3" fill="#c8203a"/>
<circle cx="420.8" cy="122.4" r="2.3" fill="#c8203a"/>
<line x1="391.2" y1="46.5" x2="401.7" y2="46.5" stroke="#c8203a" stroke-width="1.3"/>
<circle cx="396.45" cy="46.5" r="2.1" fill="#c8203a"/>
<text x="404.9" y="49.1" font-size="7.8" fill="#2e2e2e" textLength="25" lengthAdjust="spacingAndGlyphs" stroke="#2e2e2e" stroke-width="0.1">Control</text>
<line x1="391.2" y1="55.4" x2="401.7" y2="55.4" stroke="#134e8a" stroke-width="1.3" stroke-dasharray="1.3,1.3"/>
<rect x="394.45" y="53.4" width="4" height="4" fill="#134e8a"/>
<text x="404.9" y="58" font-size="7.8" fill="#2e2e2e" textLength="14.8" lengthAdjust="spacingAndGlyphs" stroke="#2e2e2e" stroke-width="0.1">KO1</text>
<line x1="391.2" y1="63.8" x2="400.2" y2="63.8" stroke="#3bb54a" stroke-width="1.4"/>
<polygon points="396.95,61.42 394.75,65.38 399.15,65.38" fill="#3bb54a"/>
<text x="404.9" y="66.4" font-size="7.8" fill="#2e2e2e" textLength="14.8" lengthAdjust="spacingAndGlyphs" stroke="#2e2e2e" stroke-width="0.1">KO2</text>
<text x="7" y="248.3" font-size="11.17" font-weight="bold" fill="#111" stroke="#111" stroke-width="0.2" textLength="7.4" lengthAdjust="spacingAndGlyphs">C</text>
<line x1="46.3" y1="263.8" x2="46.3" y2="364.8" stroke="#2e2e2e" stroke-width="1.3"/>
<line x1="45.8" y1="364.3" x2="197.5" y2="364.3" stroke="#2e2e2e" stroke-width="1.3"/>
<line x1="43.1" y1="364.3" x2="46.3" y2="364.3" stroke="#2e2e2e" stroke-width="1"/>
<text x="40.3" y="367.1" font-size="8" fill="#2e2e2e" text-anchor="end" stroke="#2e2e2e" stroke-width="0.1">0</text>
<line x1="43.1" y1="344.2" x2="46.3" y2="344.2" stroke="#2e2e2e" stroke-width="1"/>
<text x="40.3" y="347" font-size="8" fill="#2e2e2e" text-anchor="end" stroke="#2e2e2e" stroke-width="0.1">50</text>
<line x1="43.1" y1="324.1" x2="46.3" y2="324.1" stroke="#2e2e2e" stroke-width="1"/>
<text x="40.3" y="326.9" font-size="8" fill="#2e2e2e" text-anchor="end" stroke="#2e2e2e" stroke-width="0.1">100</text>
<line x1="43.1" y1="304" x2="46.3" y2="304" stroke="#2e2e2e" stroke-width="1"/>
<text x="40.3" y="306.8" font-size="8" fill="#2e2e2e" text-anchor="end" stroke="#2e2e2e" stroke-width="0.1">150</text>
<line x1="43.1" y1="283.9" x2="46.3" y2="283.9" stroke="#2e2e2e" stroke-width="1"/>
<text x="40.3" y="286.7" font-size="8" fill="#2e2e2e" text-anchor="end" stroke="#2e2e2e" stroke-width="0.1">200</text>
<line x1="43.1" y1="263.8" x2="46.3" y2="263.8" stroke="#2e2e2e" stroke-width="1"/>
<text x="40.3" y="266.6" font-size="8" fill="#2e2e2e" text-anchor="end" stroke="#2e2e2e" stroke-width="0.1">250</text>
<line x1="46.3" y1="364.3" x2="46.3" y2="367.3" stroke="#2e2e2e" stroke-width="1"/>
<text x="46.3" y="376.6" font-size="8" fill="#2e2e2e" text-anchor="middle" stroke="#2e2e2e" stroke-width="0.1">0</text>
<line x1="76.5" y1="364.3" x2="76.5" y2="367.3" stroke="#2e2e2e" stroke-width="1"/>
<text x="76.5" y="376.6" font-size="8" fill="#2e2e2e" text-anchor="middle" stroke="#2e2e2e" stroke-width="0.1">9</text>
<line x1="106.7" y1="364.3" x2="106.7" y2="367.3" stroke="#2e2e2e" stroke-width="1"/>
<text x="106.7" y="376.6" font-size="8" fill="#2e2e2e" text-anchor="middle" stroke="#2e2e2e" stroke-width="0.1">18</text>
<line x1="136.9" y1="364.3" x2="136.9" y2="367.3" stroke="#2e2e2e" stroke-width="1"/>
<text x="136.9" y="376.6" font-size="8" fill="#2e2e2e" text-anchor="middle" stroke="#2e2e2e" stroke-width="0.1">27</text>
<line x1="167.1" y1="364.3" x2="167.1" y2="367.3" stroke="#2e2e2e" stroke-width="1"/>
<text x="167.1" y="376.6" font-size="8" fill="#2e2e2e" text-anchor="middle" stroke="#2e2e2e" stroke-width="0.1">36</text>
<line x1="197.3" y1="364.3" x2="197.3" y2="367.3" stroke="#2e2e2e" stroke-width="1"/>
<text x="197.3" y="376.6" font-size="8" fill="#2e2e2e" text-anchor="middle" stroke="#2e2e2e" stroke-width="0.1">45</text>
<text x="103.6" y="388.9" font-size="9.4" fill="#2e2e2e" textLength="35.8" lengthAdjust="spacingAndGlyphs" stroke="#2e2e2e" stroke-width="0.1">Time (min)</text>
<g transform="translate(19.9,314.3) rotate(-90)"><text x="-26.9" y="0" font-size="8.3" fill="#2e2e2e" stroke="#2e2e2e" stroke-width="0.1" textLength="53.8" lengthAdjust="spacingAndGlyphs">OCR (pmol/min)</text></g>
<line x1="46.3" y1="355.4" x2="197.5" y2="355.4" stroke="#222" stroke-width="1.1"/>
<line x1="76.5" y1="267.8" x2="76.5" y2="355" stroke="#3a3a3a" stroke-width="1.4" stroke-dasharray="4,1.3,0.9,1"/>
<line x1="117" y1="267.8" x2="117" y2="355" stroke="#3a3a3a" stroke-width="1.4" stroke-dasharray="4,1.3,0.9,1"/>
<line x1="157" y1="267.8" x2="157" y2="355" stroke="#3a3a3a" stroke-width="1.4" stroke-dasharray="4,1.3,0.9,1"/>
<text x="57.5" y="264.5" font-size="7.8" fill="#2e2e2e" textLength="37.1" lengthAdjust="spacingAndGlyphs" stroke="#2e2e2e" stroke-width="0.1">Oligomycin</text>
<text x="106.6" y="264.7" font-size="7.8" fill="#2e2e2e" textLength="19.4" lengthAdjust="spacingAndGlyphs" stroke="#2e2e2e" stroke-width="0.1">FCCP</text>
<text x="136.4" y="264.4" font-size="7.8" fill="#2e2e2e" textLength="40.9" lengthAdjust="spacingAndGlyphs" stroke="#2e2e2e" stroke-width="0.1">Antimycin A</text>
<text x="51.2" y="343.6" font-size="7.8" fill="#2e2e2e" textLength="16.7" lengthAdjust="spacingAndGlyphs" stroke="#2e2e2e" stroke-width="0.1">Basal</text>
<text x="52.1" y="352.2" font-size="7.8" fill="#2e2e2e" textLength="15.4" lengthAdjust="spacingAndGlyphs" stroke="#2e2e2e" stroke-width="0.1">OCR</text>
<text x="129.9" y="343.6" font-size="7.8" fill="#2e2e2e" textLength="13.8" lengthAdjust="spacingAndGlyphs" stroke="#2e2e2e" stroke-width="0.1">Max</text>
<text x="128.9" y="352.2" font-size="7.8" fill="#2e2e2e" textLength="15.1" lengthAdjust="spacingAndGlyphs" stroke="#2e2e2e" stroke-width="0.1">OCR</text>
<polyline points="46.3,312.2 56.37,317.1 66.44,319.6 76.51,321.7 86.58,345.4 96.65,347.5 106.72,348.8 116.79,348.2 126.86,300.8 136.93,300.8 147,301.8 157.07,303.3 167.14,355.4 177.21,355.4 187.28,355.4 197.35,355.4" fill="none" stroke="#3bb54a" stroke-width="1.4" stroke-dasharray="3,1.4"/>
<line x1="46.3" y1="308.2" x2="46.3" y2="316.2" stroke="#3bb54a" stroke-width="0.9" opacity="0.75"/>
<line x1="44.1" y1="308.2" x2="48.5" y2="308.2" stroke="#3bb54a" stroke-width="0.9" opacity="0.75"/>
<line x1="44.1" y1="316.2" x2="48.5" y2="316.2" stroke="#3bb54a" stroke-width="0.9" opacity="0.75"/>
<line x1="56.37" y1="313.1" x2="56.37" y2="321.1" stroke="#3bb54a" stroke-width="0.9" opacity="0.75"/>
<line x1="54.17" y1="313.1" x2="58.57" y2="313.1" stroke="#3bb54a" stroke-width="0.9" opacity="0.75"/>
<line x1="54.17" y1="321.1" x2="58.57" y2="321.1" stroke="#3bb54a" stroke-width="0.9" opacity="0.75"/>
<line x1="66.44" y1="315.6" x2="66.44" y2="323.6" stroke="#3bb54a" stroke-width="0.9" opacity="0.75"/>
<line x1="64.24" y1="315.6" x2="68.64" y2="315.6" stroke="#3bb54a" stroke-width="0.9" opacity="0.75"/>
<line x1="64.24" y1="323.6" x2="68.64" y2="323.6" stroke="#3bb54a" stroke-width="0.9" opacity="0.75"/>
<line x1="76.51" y1="317.7" x2="76.51" y2="325.7" stroke="#3bb54a" stroke-width="0.9" opacity="0.75"/>
<line x1="74.31" y1="317.7" x2="78.71" y2="317.7" stroke="#3bb54a" stroke-width="0.9" opacity="0.75"/>
<line x1="74.31" y1="325.7" x2="78.71" y2="325.7" stroke="#3bb54a" stroke-width="0.9" opacity="0.75"/>
<line x1="86.58" y1="343.4" x2="86.58" y2="347.4" stroke="#3bb54a" stroke-width="0.9" opacity="0.75"/>
<line x1="84.38" y1="343.4" x2="88.78" y2="343.4" stroke="#3bb54a" stroke-width="0.9" opacity="0.75"/>
<line x1="84.38" y1="347.4" x2="88.78" y2="347.4" stroke="#3bb54a" stroke-width="0.9" opacity="0.75"/>
<line x1="96.65" y1="345.5" x2="96.65" y2="349.5" stroke="#3bb54a" stroke-width="0.9" opacity="0.75"/>
<line x1="94.45" y1="345.5" x2="98.85" y2="345.5" stroke="#3bb54a" stroke-width="0.9" opacity="0.75"/>
<line x1="94.45" y1="349.5" x2="98.85" y2="349.5" stroke="#3bb54a" stroke-width="0.9" opacity="0.75"/>
<line x1="106.72" y1="346.8" x2="106.72" y2="350.8" stroke="#3bb54a" stroke-width="0.9" opacity="0.75"/>
<line x1="104.52" y1="346.8" x2="108.92" y2="346.8" stroke="#3bb54a" stroke-width="0.9" opacity="0.75"/>
<line x1="104.52" y1="350.8" x2="108.92" y2="350.8" stroke="#3bb54a" stroke-width="0.9" opacity="0.75"/>
<line x1="116.79" y1="346.2" x2="116.79" y2="350.2" stroke="#3bb54a" stroke-width="0.9" opacity="0.75"/>
<line x1="114.59" y1="346.2" x2="118.99" y2="346.2" stroke="#3bb54a" stroke-width="0.9" opacity="0.75"/>
<line x1="114.59" y1="350.2" x2="118.99" y2="350.2" stroke="#3bb54a" stroke-width="0.9" opacity="0.75"/>
<line x1="126.86" y1="296.8" x2="126.86" y2="304.8" stroke="#3bb54a" stroke-width="0.9" opacity="0.75"/>
<line x1="124.66" y1="296.8" x2="129.06" y2="296.8" stroke="#3bb54a" stroke-width="0.9" opacity="0.75"/>
<line x1="124.66" y1="304.8" x2="129.06" y2="304.8" stroke="#3bb54a" stroke-width="0.9" opacity="0.75"/>
<line x1="136.93" y1="296.8" x2="136.93" y2="304.8" stroke="#3bb54a" stroke-width="0.9" opacity="0.75"/>
<line x1="134.73" y1="296.8" x2="139.13" y2="296.8" stroke="#3bb54a" stroke-width="0.9" opacity="0.75"/>
<line x1="134.73" y1="304.8" x2="139.13" y2="304.8" stroke="#3bb54a" stroke-width="0.9" opacity="0.75"/>
<line x1="147" y1="297.8" x2="147" y2="305.8" stroke="#3bb54a" stroke-width="0.9" opacity="0.75"/>
<line x1="144.8" y1="297.8" x2="149.2" y2="297.8" stroke="#3bb54a" stroke-width="0.9" opacity="0.75"/>
<line x1="144.8" y1="305.8" x2="149.2" y2="305.8" stroke="#3bb54a" stroke-width="0.9" opacity="0.75"/>
<line x1="157.07" y1="299.3" x2="157.07" y2="307.3" stroke="#3bb54a" stroke-width="0.9" opacity="0.75"/>
<line x1="154.87" y1="299.3" x2="159.27" y2="299.3" stroke="#3bb54a" stroke-width="0.9" opacity="0.75"/>
<line x1="154.87" y1="307.3" x2="159.27" y2="307.3" stroke="#3bb54a" stroke-width="0.9" opacity="0.75"/>
<line x1="167.14" y1="354.4" x2="167.14" y2="356.4" stroke="#3bb54a" stroke-width="0.9" opacity="0.75"/>
<line x1="164.94" y1="354.4" x2="169.34" y2="354.4" stroke="#3bb54a" stroke-width="0.9" opacity="0.75"/>
<line x1="164.94" y1="356.4" x2="169.34" y2="356.4" stroke="#3bb54a" stroke-width="0.9" opacity="0.75"/>
<line x1="177.21" y1="354.4" x2="177.21" y2="356.4" stroke="#3bb54a" stroke-width="0.9" opacity="0.75"/>
<line x1="175.01" y1="354.4" x2="179.41" y2="354.4" stroke="#3bb54a" stroke-width="0.9" opacity="0.75"/>
<line x1="175.01" y1="356.4" x2="179.41" y2="356.4" stroke="#3bb54a" stroke-width="0.9" opacity="0.75"/>
<line x1="187.28" y1="354.4" x2="187.28" y2="356.4" stroke="#3bb54a" stroke-width="0.9" opacity="0.75"/>
<line x1="185.08" y1="354.4" x2="189.48" y2="354.4" stroke="#3bb54a" stroke-width="0.9" opacity="0.75"/>
<line x1="185.08" y1="356.4" x2="189.48" y2="356.4" stroke="#3bb54a" stroke-width="0.9" opacity="0.75"/>
<line x1="197.35" y1="354.4" x2="197.35" y2="356.4" stroke="#3bb54a" stroke-width="0.9" opacity="0.75"/>
<line x1="195.15" y1="354.4" x2="199.55" y2="354.4" stroke="#3bb54a" stroke-width="0.9" opacity="0.75"/>
<line x1="195.15" y1="356.4" x2="199.55" y2="356.4" stroke="#3bb54a" stroke-width="0.9" opacity="0.75"/>
<polygon points="46.3,309.47 43.77,314.02 48.83,314.02" fill="#3bb54a"/>
<polygon points="56.37,314.37 53.84,318.92 58.9,318.92" fill="#3bb54a"/>
<polygon points="66.44,316.87 63.91,321.42 68.97,321.42" fill="#3bb54a"/>
<polygon points="76.51,318.97 73.98,323.52 79.04,323.52" fill="#3bb54a"/>
<polygon points="86.58,342.67 84.05,347.22 89.11,347.22" fill="#3bb54a"/>
<polygon points="96.65,344.77 94.12,349.32 99.18,349.32" fill="#3bb54a"/>
<polygon points="106.72,346.07 104.19,350.62 109.25,350.62" fill="#3bb54a"/>
<polygon points="116.79,345.47 114.26,350.02 119.32,350.02" fill="#3bb54a"/>
<polygon points="126.86,298.07 124.33,302.62 129.39,302.62" fill="#3bb54a"/>
<polygon points="136.93,298.07 134.4,302.62 139.46,302.62" fill="#3bb54a"/>
<polygon points="147,299.07 144.47,303.62 149.53,303.62" fill="#3bb54a"/>
<polygon points="157.07,300.57 154.54,305.12 159.6,305.12" fill="#3bb54a"/>
<polygon points="167.14,352.67 164.61,357.22 169.67,357.22" fill="#3bb54a"/>
<polygon points="177.21,352.67 174.68,357.22 179.74,357.22" fill="#3bb54a"/>
<polygon points="187.28,352.67 184.75,357.22 189.81,357.22" fill="#3bb54a"/>
<polygon points="197.35,352.67 194.82,357.22 199.88,357.22" fill="#3bb54a"/>
<polyline points="46.3,317.5 56.37,322.8 66.44,325.5 76.51,326.6 86.58,343.9 96.65,346.1 106.72,346.7 116.79,346.1 126.86,297.6 136.93,301.8 147,304.6 157.07,305.4 167.14,354.7 177.21,356.2 187.28,356.8 197.35,356.8" fill="none" stroke="#134e8a" stroke-width="1.4" stroke-dasharray="1.2,1.8"/>
<line x1="46.3" y1="315.5" x2="46.3" y2="319.5" stroke="#134e8a" stroke-width="0.9" opacity="0.75"/>
<line x1="44.1" y1="315.5" x2="48.5" y2="315.5" stroke="#134e8a" stroke-width="0.9" opacity="0.75"/>
<line x1="44.1" y1="319.5" x2="48.5" y2="319.5" stroke="#134e8a" stroke-width="0.9" opacity="0.75"/>
<line x1="56.37" y1="320.8" x2="56.37" y2="324.8" stroke="#134e8a" stroke-width="0.9" opacity="0.75"/>
<line x1="54.17" y1="320.8" x2="58.57" y2="320.8" stroke="#134e8a" stroke-width="0.9" opacity="0.75"/>
<line x1="54.17" y1="324.8" x2="58.57" y2="324.8" stroke="#134e8a" stroke-width="0.9" opacity="0.75"/>
<line x1="66.44" y1="323.5" x2="66.44" y2="327.5" stroke="#134e8a" stroke-width="0.9" opacity="0.75"/>
<line x1="64.24" y1="323.5" x2="68.64" y2="323.5" stroke="#134e8a" stroke-width="0.9" opacity="0.75"/>
<line x1="64.24" y1="327.5" x2="68.64" y2="327.5" stroke="#134e8a" stroke-width="0.9" opacity="0.75"/>
<line x1="76.51" y1="324.6" x2="76.51" y2="328.6" stroke="#134e8a" stroke-width="0.9" opacity="0.75"/>
<line x1="74.31" y1="324.6" x2="78.71" y2="324.6" stroke="#134e8a" stroke-width="0.9" opacity="0.75"/>
<line x1="74.31" y1="328.6" x2="78.71" y2="328.6" stroke="#134e8a" stroke-width="0.9" opacity="0.75"/>
<line x1="86.58" y1="341.9" x2="86.58" y2="345.9" stroke="#134e8a" stroke-width="0.9" opacity="0.75"/>
<line x1="84.38" y1="341.9" x2="88.78" y2="341.9" stroke="#134e8a" stroke-width="0.9" opacity="0.75"/>
<line x1="84.38" y1="345.9" x2="88.78" y2="345.9" stroke="#134e8a" stroke-width="0.9" opacity="0.75"/>
<line x1="96.65" y1="344.1" x2="96.65" y2="348.1" stroke="#134e8a" stroke-width="0.9" opacity="0.75"/>
<line x1="94.45" y1="344.1" x2="98.85" y2="344.1" stroke="#134e8a" stroke-width="0.9" opacity="0.75"/>
<line x1="94.45" y1="348.1" x2="98.85" y2="348.1" stroke="#134e8a" stroke-width="0.9" opacity="0.75"/>
<line x1="106.72" y1="344.7" x2="106.72" y2="348.7" stroke="#134e8a" stroke-width="0.9" opacity="0.75"/>
<line x1="104.52" y1="344.7" x2="108.92" y2="344.7" stroke="#134e8a" stroke-width="0.9" opacity="0.75"/>
<line x1="104.52" y1="348.7" x2="108.92" y2="348.7" stroke="#134e8a" stroke-width="0.9" opacity="0.75"/>
<line x1="116.79" y1="344.1" x2="116.79" y2="348.1" stroke="#134e8a" stroke-width="0.9" opacity="0.75"/>
<line x1="114.59" y1="344.1" x2="118.99" y2="344.1" stroke="#134e8a" stroke-width="0.9" opacity="0.75"/>
<line x1="114.59" y1="348.1" x2="118.99" y2="348.1" stroke="#134e8a" stroke-width="0.9" opacity="0.75"/>
<line x1="126.86" y1="293.6" x2="126.86" y2="301.6" stroke="#134e8a" stroke-width="0.9" opacity="0.75"/>
<line x1="124.66" y1="293.6" x2="129.06" y2="293.6" stroke="#134e8a" stroke-width="0.9" opacity="0.75"/>
<line x1="124.66" y1="301.6" x2="129.06" y2="301.6" stroke="#134e8a" stroke-width="0.9" opacity="0.75"/>
<line x1="136.93" y1="297.8" x2="136.93" y2="305.8" stroke="#134e8a" stroke-width="0.9" opacity="0.75"/>
<line x1="134.73" y1="297.8" x2="139.13" y2="297.8" stroke="#134e8a" stroke-width="0.9" opacity="0.75"/>
<line x1="134.73" y1="305.8" x2="139.13" y2="305.8" stroke="#134e8a" stroke-width="0.9" opacity="0.75"/>
<line x1="147" y1="300.6" x2="147" y2="308.6" stroke="#134e8a" stroke-width="0.9" opacity="0.75"/>
<line x1="144.8" y1="300.6" x2="149.2" y2="300.6" stroke="#134e8a" stroke-width="0.9" opacity="0.75"/>
<line x1="144.8" y1="308.6" x2="149.2" y2="308.6" stroke="#134e8a" stroke-width="0.9" opacity="0.75"/>
<line x1="157.07" y1="301.4" x2="157.07" y2="309.4" stroke="#134e8a" stroke-width="0.9" opacity="0.75"/>
<line x1="154.87" y1="301.4" x2="159.27" y2="301.4" stroke="#134e8a" stroke-width="0.9" opacity="0.75"/>
<line x1="154.87" y1="309.4" x2="159.27" y2="309.4" stroke="#134e8a" stroke-width="0.9" opacity="0.75"/>
<line x1="167.14" y1="353.7" x2="167.14" y2="355.7" stroke="#134e8a" stroke-width="0.9" opacity="0.75"/>
<line x1="164.94" y1="353.7" x2="169.34" y2="353.7" stroke="#134e8a" stroke-width="0.9" opacity="0.75"/>
<line x1="164.94" y1="355.7" x2="169.34" y2="355.7" stroke="#134e8a" stroke-width="0.9" opacity="0.75"/>
<line x1="177.21" y1="355.2" x2="177.21" y2="357.2" stroke="#134e8a" stroke-width="0.9" opacity="0.75"/>
<line x1="175.01" y1="355.2" x2="179.41" y2="355.2" stroke="#134e8a" stroke-width="0.9" opacity="0.75"/>
<line x1="175.01" y1="357.2" x2="179.41" y2="357.2" stroke="#134e8a" stroke-width="0.9" opacity="0.75"/>
<line x1="187.28" y1="355.8" x2="187.28" y2="357.8" stroke="#134e8a" stroke-width="0.9" opacity="0.75"/>
<line x1="185.08" y1="355.8" x2="189.48" y2="355.8" stroke="#134e8a" stroke-width="0.9" opacity="0.75"/>
<line x1="185.08" y1="357.8" x2="189.48" y2="357.8" stroke="#134e8a" stroke-width="0.9" opacity="0.75"/>
<line x1="197.35" y1="355.8" x2="197.35" y2="357.8" stroke="#134e8a" stroke-width="0.9" opacity="0.75"/>
<line x1="195.15" y1="355.8" x2="199.55" y2="355.8" stroke="#134e8a" stroke-width="0.9" opacity="0.75"/>
<line x1="195.15" y1="357.8" x2="199.55" y2="357.8" stroke="#134e8a" stroke-width="0.9" opacity="0.75"/>
<rect x="44" y="315.2" width="4.6" height="4.6" fill="#134e8a"/>
<rect x="54.07" y="320.5" width="4.6" height="4.6" fill="#134e8a"/>
<rect x="64.14" y="323.2" width="4.6" height="4.6" fill="#134e8a"/>
<rect x="74.21" y="324.3" width="4.6" height="4.6" fill="#134e8a"/>
<rect x="84.28" y="341.6" width="4.6" height="4.6" fill="#134e8a"/>
<rect x="94.35" y="343.8" width="4.6" height="4.6" fill="#134e8a"/>
<rect x="104.42" y="344.4" width="4.6" height="4.6" fill="#134e8a"/>
<rect x="114.49" y="343.8" width="4.6" height="4.6" fill="#134e8a"/>
<rect x="124.56" y="295.3" width="4.6" height="4.6" fill="#134e8a"/>
<rect x="134.63" y="299.5" width="4.6" height="4.6" fill="#134e8a"/>
<rect x="144.7" y="302.3" width="4.6" height="4.6" fill="#134e8a"/>
<rect x="154.77" y="303.1" width="4.6" height="4.6" fill="#134e8a"/>
<rect x="164.84" y="352.4" width="4.6" height="4.6" fill="#134e8a"/>
<rect x="174.91" y="353.9" width="4.6" height="4.6" fill="#134e8a"/>
<rect x="184.98" y="354.5" width="4.6" height="4.6" fill="#134e8a"/>
<rect x="195.05" y="354.5" width="4.6" height="4.6" fill="#134e8a"/>
<polyline points="46.3,298.9 56.37,302.3 66.44,303.3 76.51,304.8 86.58,337.6 96.65,340.8 106.72,341.2 116.79,341.2 126.86,290.2 136.93,295.1 147,298 157.07,298.7 167.14,353.2 177.21,353.2 187.28,353.7 197.35,354.1" fill="none" stroke="#c8203a" stroke-width="1.4"/>
<line x1="46.3" y1="293.9" x2="46.3" y2="303.9" stroke="#c8203a" stroke-width="0.9" opacity="0.75"/>
<line x1="44.1" y1="293.9" x2="48.5" y2="293.9" stroke="#c8203a" stroke-width="0.9" opacity="0.75"/>
<line x1="44.1" y1="303.9" x2="48.5" y2="303.9" stroke="#c8203a" stroke-width="0.9" opacity="0.75"/>
<line x1="56.37" y1="299.3" x2="56.37" y2="305.3" stroke="#c8203a" stroke-width="0.9" opacity="0.75"/>
<line x1="54.17" y1="299.3" x2="58.57" y2="299.3" stroke="#c8203a" stroke-width="0.9" opacity="0.75"/>
<line x1="54.17" y1="305.3" x2="58.57" y2="305.3" stroke="#c8203a" stroke-width="0.9" opacity="0.75"/>
<line x1="66.44" y1="302.3" x2="66.44" y2="304.3" stroke="#c8203a" stroke-width="0.9" opacity="0.75"/>
<line x1="64.24" y1="302.3" x2="68.64" y2="302.3" stroke="#c8203a" stroke-width="0.9" opacity="0.75"/>
<line x1="64.24" y1="304.3" x2="68.64" y2="304.3" stroke="#c8203a" stroke-width="0.9" opacity="0.75"/>
<line x1="76.51" y1="303.8" x2="76.51" y2="305.8" stroke="#c8203a" stroke-width="0.9" opacity="0.75"/>
<line x1="74.31" y1="303.8" x2="78.71" y2="303.8" stroke="#c8203a" stroke-width="0.9" opacity="0.75"/>
<line x1="74.31" y1="305.8" x2="78.71" y2="305.8" stroke="#c8203a" stroke-width="0.9" opacity="0.75"/>
<line x1="86.58" y1="335.1" x2="86.58" y2="340.1" stroke="#c8203a" stroke-width="0.9" opacity="0.75"/>
<line x1="84.38" y1="335.1" x2="88.78" y2="335.1" stroke="#c8203a" stroke-width="0.9" opacity="0.75"/>
<line x1="84.38" y1="340.1" x2="88.78" y2="340.1" stroke="#c8203a" stroke-width="0.9" opacity="0.75"/>
<line x1="96.65" y1="338.8" x2="96.65" y2="342.8" stroke="#c8203a" stroke-width="0.9" opacity="0.75"/>
<line x1="94.45" y1="338.8" x2="98.85" y2="338.8" stroke="#c8203a" stroke-width="0.9" opacity="0.75"/>
<line x1="94.45" y1="342.8" x2="98.85" y2="342.8" stroke="#c8203a" stroke-width="0.9" opacity="0.75"/>
<line x1="106.72" y1="339.2" x2="106.72" y2="343.2" stroke="#c8203a" stroke-width="0.9" opacity="0.75"/>
<line x1="104.52" y1="339.2" x2="108.92" y2="339.2" stroke="#c8203a" stroke-width="0.9" opacity="0.75"/>
<line x1="104.52" y1="343.2" x2="108.92" y2="343.2" stroke="#c8203a" stroke-width="0.9" opacity="0.75"/>
<line x1="116.79" y1="339.2" x2="116.79" y2="343.2" stroke="#c8203a" stroke-width="0.9" opacity="0.75"/>
<line x1="114.59" y1="339.2" x2="118.99" y2="339.2" stroke="#c8203a" stroke-width="0.9" opacity="0.75"/>
<line x1="114.59" y1="343.2" x2="118.99" y2="343.2" stroke="#c8203a" stroke-width="0.9" opacity="0.75"/>
<line x1="126.86" y1="281.2" x2="126.86" y2="299.2" stroke="#c8203a" stroke-width="0.9" opacity="0.75"/>
<line x1="124.66" y1="281.2" x2="129.06" y2="281.2" stroke="#c8203a" stroke-width="0.9" opacity="0.75"/>
<line x1="124.66" y1="299.2" x2="129.06" y2="299.2" stroke="#c8203a" stroke-width="0.9" opacity="0.75"/>
<line x1="136.93" y1="288.1" x2="136.93" y2="302.1" stroke="#c8203a" stroke-width="0.9" opacity="0.75"/>
<line x1="134.73" y1="288.1" x2="139.13" y2="288.1" stroke="#c8203a" stroke-width="0.9" opacity="0.75"/>
<line x1="134.73" y1="302.1" x2="139.13" y2="302.1" stroke="#c8203a" stroke-width="0.9" opacity="0.75"/>
<line x1="147" y1="292" x2="147" y2="304" stroke="#c8203a" stroke-width="0.9" opacity="0.75"/>
<line x1="144.8" y1="292" x2="149.2" y2="292" stroke="#c8203a" stroke-width="0.9" opacity="0.75"/>
<line x1="144.8" y1="304" x2="149.2" y2="304" stroke="#c8203a" stroke-width="0.9" opacity="0.75"/>
<line x1="157.07" y1="291.7" x2="157.07" y2="305.7" stroke="#c8203a" stroke-width="0.9" opacity="0.75"/>
<line x1="154.87" y1="291.7" x2="159.27" y2="291.7" stroke="#c8203a" stroke-width="0.9" opacity="0.75"/>
<line x1="154.87" y1="305.7" x2="159.27" y2="305.7" stroke="#c8203a" stroke-width="0.9" opacity="0.75"/>
<line x1="167.14" y1="352.2" x2="167.14" y2="354.2" stroke="#c8203a" stroke-width="0.9" opacity="0.75"/>
<line x1="164.94" y1="352.2" x2="169.34" y2="352.2" stroke="#c8203a" stroke-width="0.9" opacity="0.75"/>
<line x1="164.94" y1="354.2" x2="169.34" y2="354.2" stroke="#c8203a" stroke-width="0.9" opacity="0.75"/>
<line x1="177.21" y1="352.2" x2="177.21" y2="354.2" stroke="#c8203a" stroke-width="0.9" opacity="0.75"/>
<line x1="175.01" y1="352.2" x2="179.41" y2="352.2" stroke="#c8203a" stroke-width="0.9" opacity="0.75"/>
<line x1="175.01" y1="354.2" x2="179.41" y2="354.2" stroke="#c8203a" stroke-width="0.9" opacity="0.75"/>
<line x1="187.28" y1="352.7" x2="187.28" y2="354.7" stroke="#c8203a" stroke-width="0.9" opacity="0.75"/>
<line x1="185.08" y1="352.7" x2="189.48" y2="352.7" stroke="#c8203a" stroke-width="0.9" opacity="0.75"/>
<line x1="185.08" y1="354.7" x2="189.48" y2="354.7" stroke="#c8203a" stroke-width="0.9" opacity="0.75"/>
<line x1="197.35" y1="353.1" x2="197.35" y2="355.1" stroke="#c8203a" stroke-width="0.9" opacity="0.75"/>
<line x1="195.15" y1="353.1" x2="199.55" y2="353.1" stroke="#c8203a" stroke-width="0.9" opacity="0.75"/>
<line x1="195.15" y1="355.1" x2="199.55" y2="355.1" stroke="#c8203a" stroke-width="0.9" opacity="0.75"/>
<circle cx="46.3" cy="298.9" r="2.3" fill="#c8203a"/>
<circle cx="56.37" cy="302.3" r="2.3" fill="#c8203a"/>
<circle cx="66.44" cy="303.3" r="2.3" fill="#c8203a"/>
<circle cx="76.51" cy="304.8" r="2.3" fill="#c8203a"/>
<circle cx="86.58" cy="337.6" r="2.3" fill="#c8203a"/>
<circle cx="96.65" cy="340.8" r="2.3" fill="#c8203a"/>
<circle cx="106.72" cy="341.2" r="2.3" fill="#c8203a"/>
<circle cx="116.79" cy="341.2" r="2.3" fill="#c8203a"/>
<circle cx="126.86" cy="290.2" r="2.3" fill="#c8203a"/>
<circle cx="136.93" cy="295.1" r="2.3" fill="#c8203a"/>
<circle cx="147" cy="298" r="2.3" fill="#c8203a"/>
<circle cx="157.07" cy="298.7" r="2.3" fill="#c8203a"/>
<circle cx="167.14" cy="353.2" r="2.3" fill="#c8203a"/>
<circle cx="177.21" cy="353.2" r="2.3" fill="#c8203a"/>
<circle cx="187.28" cy="353.7" r="2.3" fill="#c8203a"/>
<circle cx="197.35" cy="354.1" r="2.3" fill="#c8203a"/>
<line x1="171.3" y1="273.3" x2="183" y2="273.3" stroke="#c8203a" stroke-width="1.3"/>
<circle cx="177.15" cy="273.3" r="2.1" fill="#c8203a"/>
<text x="185.7" y="275.9" font-size="7.8" fill="#2e2e2e" textLength="25" lengthAdjust="spacingAndGlyphs" stroke="#2e2e2e" stroke-width="0.1">Control</text>
<line x1="171.3" y1="282.2" x2="183" y2="282.2" stroke="#134e8a" stroke-width="1.3" stroke-dasharray="1.3,1.3"/>
<rect x="175.15" y="280.2" width="4" height="4" fill="#134e8a"/>
<text x="185.7" y="284.8" font-size="7.8" fill="#2e2e2e" textLength="14.8" lengthAdjust="spacingAndGlyphs" stroke="#2e2e2e" stroke-width="0.1">KO1</text>
<line x1="171.3" y1="290.6" x2="181.5" y2="290.6" stroke="#3bb54a" stroke-width="1.4"/>
<polygon points="177.65,288.22 175.45,292.18 179.85,292.18" fill="#3bb54a"/>
<text x="185.7" y="293.2" font-size="7.8" fill="#2e2e2e" textLength="14.8" lengthAdjust="spacingAndGlyphs" stroke="#2e2e2e" stroke-width="0.1">KO2</text>
<text x="233.5" y="203.6" font-size="10.2" font-weight="bold" fill="#111" stroke="#111" stroke-width="0.2" textLength="7.7" lengthAdjust="spacingAndGlyphs">D</text>
<line x1="278.9" y1="216.3" x2="278.9" y2="320.4" stroke="#2e2e2e" stroke-width="1.3"/>
<line x1="278.4" y1="319.9" x2="382" y2="319.9" stroke="#2e2e2e" stroke-width="1.3"/>
<line x1="275.5" y1="319.9" x2="278.9" y2="319.9" stroke="#2e2e2e" stroke-width="1"/>
<text x="273.2" y="322.4" font-size="7" fill="#2e2e2e" text-anchor="end" stroke="#2e2e2e" stroke-width="0.1">0</text>
<line x1="275.5" y1="299.2" x2="278.9" y2="299.2" stroke="#2e2e2e" stroke-width="1"/>
<text x="247.8" y="301.7" font-size="7.6" fill="#2e2e2e" textLength="3.8" lengthAdjust="spacingAndGlyphs" stroke="#2e2e2e" stroke-width="0.1">1</text>
<line x1="254.34" y1="297.25" x2="258.25" y2="301.15" stroke="#2e2e2e" stroke-width="0.75"/>
<line x1="254.34" y1="301.15" x2="258.25" y2="297.25" stroke="#2e2e2e" stroke-width="0.75"/>
<text x="261.2" y="301.7" font-size="7.6" fill="#2e2e2e" textLength="8.4" lengthAdjust="spacingAndGlyphs" stroke="#2e2e2e" stroke-width="0.1">10</text>
<text x="269.8" y="298.3" font-size="5" fill="#2e2e2e" text-anchor="start" stroke="#2e2e2e" stroke-width="0.1">4</text>
<line x1="275.5" y1="278.5" x2="278.9" y2="278.5" stroke="#2e2e2e" stroke-width="1"/>
<text x="247.8" y="281" font-size="7.6" fill="#2e2e2e" textLength="3.8" lengthAdjust="spacingAndGlyphs" stroke="#2e2e2e" stroke-width="0.1">2</text>
<line x1="254.34" y1="276.55" x2="258.25" y2="280.45" stroke="#2e2e2e" stroke-width="0.75"/>
<line x1="254.34" y1="280.45" x2="258.25" y2="276.55" stroke="#2e2e2e" stroke-width="0.75"/>
<text x="261.2" y="281" font-size="7.6" fill="#2e2e2e" textLength="8.4" lengthAdjust="spacingAndGlyphs" stroke="#2e2e2e" stroke-width="0.1">10</text>
<text x="269.8" y="277.6" font-size="5" fill="#2e2e2e" text-anchor="start" stroke="#2e2e2e" stroke-width="0.1">4</text>
<line x1="275.5" y1="257.8" x2="278.9" y2="257.8" stroke="#2e2e2e" stroke-width="1"/>
<text x="247.8" y="260.3" font-size="7.6" fill="#2e2e2e" textLength="3.8" lengthAdjust="spacingAndGlyphs" stroke="#2e2e2e" stroke-width="0.1">3</text>
<line x1="254.34" y1="255.84" x2="258.25" y2="259.75" stroke="#2e2e2e" stroke-width="0.75"/>
<line x1="254.34" y1="259.75" x2="258.25" y2="255.84" stroke="#2e2e2e" stroke-width="0.75"/>
<text x="261.2" y="260.3" font-size="7.6" fill="#2e2e2e" textLength="8.4" lengthAdjust="spacingAndGlyphs" stroke="#2e2e2e" stroke-width="0.1">10</text>
<text x="269.8" y="256.9" font-size="5" fill="#2e2e2e" text-anchor="start" stroke="#2e2e2e" stroke-width="0.1">4</text>
<line x1="275.5" y1="237.1" x2="278.9" y2="237.1" stroke="#2e2e2e" stroke-width="1"/>
<text x="247.8" y="239.6" font-size="7.6" fill="#2e2e2e" textLength="3.8" lengthAdjust="spacingAndGlyphs" stroke="#2e2e2e" stroke-width="0.1">4</text>
<line x1="254.34" y1="235.14" x2="258.25" y2="239.05" stroke="#2e2e2e" stroke-width="0.75"/>
<line x1="254.34" y1="239.05" x2="258.25" y2="235.14" stroke="#2e2e2e" stroke-width="0.75"/>
<text x="261.2" y="239.6" font-size="7.6" fill="#2e2e2e" textLength="8.4" lengthAdjust="spacingAndGlyphs" stroke="#2e2e2e" stroke-width="0.1">10</text>
<text x="269.8" y="236.2" font-size="5" fill="#2e2e2e" text-anchor="start" stroke="#2e2e2e" stroke-width="0.1">4</text>
<line x1="275.5" y1="216.4" x2="278.9" y2="216.4" stroke="#2e2e2e" stroke-width="1"/>
<text x="247.8" y="218.9" font-size="7.6" fill="#2e2e2e" textLength="3.8" lengthAdjust="spacingAndGlyphs" stroke="#2e2e2e" stroke-width="0.1">5</text>
<line x1="254.34" y1="214.44" x2="258.25" y2="218.35" stroke="#2e2e2e" stroke-width="0.75"/>
<line x1="254.34" y1="218.35" x2="258.25" y2="214.44" stroke="#2e2e2e" stroke-width="0.75"/>
<text x="261.2" y="218.9" font-size="7.6" fill="#2e2e2e" textLength="8.4" lengthAdjust="spacingAndGlyphs" stroke="#2e2e2e" stroke-width="0.1">10</text>
<text x="269.8" y="215.5" font-size="5" fill="#2e2e2e" text-anchor="start" stroke="#2e2e2e" stroke-width="0.1">4</text>
<rect x="285.6" y="256.6" width="10.6" height="62.8" fill="#c8203a"/>
<line x1="290.9" y1="249.2" x2="290.9" y2="256.6" stroke="#505050" stroke-width="1.1"/>
<line x1="287.9" y1="249.2" x2="293.9" y2="249.2" stroke="#333" stroke-width="1.2"/>
<line x1="290.9" y1="319.9" x2="290.9" y2="322.5" stroke="#2e2e2e" stroke-width="1"/>
<rect x="301.4" y="295" width="10.6" height="24.4" fill="#134e8a"/>
<line x1="306.7" y1="292.4" x2="306.7" y2="295" stroke="#505050" stroke-width="1.1"/>
<line x1="303.7" y1="292.4" x2="309.7" y2="292.4" stroke="#333" stroke-width="1.2"/>
<line x1="306.7" y1="319.9" x2="306.7" y2="322.5" stroke="#2e2e2e" stroke-width="1"/>
<rect x="317.2" y="294" width="10.6" height="25.4" fill="#3bb54a"/>
<line x1="322.5" y1="292.3" x2="322.5" y2="294" stroke="#505050" stroke-width="1.1"/>
<line x1="319.5" y1="292.3" x2="325.5" y2="292.3" stroke="#333" stroke-width="1.2"/>
<line x1="322.5" y1="319.9" x2="322.5" y2="322.5" stroke="#2e2e2e" stroke-width="1"/>
<rect x="333.1" y="227" width="10.6" height="92.4" fill="#5c2670"/>
<line x1="338.4" y1="222.3" x2="338.4" y2="227" stroke="#505050" stroke-width="1.1"/>
<line x1="335.4" y1="222.3" x2="341.4" y2="222.3" stroke="#333" stroke-width="1.2"/>
<line x1="338.4" y1="319.9" x2="338.4" y2="322.5" stroke="#2e2e2e" stroke-width="1"/>
<rect x="348.8" y="282" width="10.6" height="37.4" fill="#f7941e"/>
<line x1="354.1" y1="275.2" x2="354.1" y2="282" stroke="#505050" stroke-width="1.1"/>
<line x1="351.1" y1="275.2" x2="357.1" y2="275.2" stroke="#333" stroke-width="1.2"/>
<line x1="354.1" y1="319.9" x2="354.1" y2="322.5" stroke="#2e2e2e" stroke-width="1"/>
<rect x="364.6" y="274.6" width="10.6" height="44.8" fill="#0e6b52"/>
<line x1="369.9" y1="270.3" x2="369.9" y2="274.6" stroke="#505050" stroke-width="1.1"/>
<line x1="366.9" y1="270.3" x2="372.9" y2="270.3" stroke="#333" stroke-width="1.2"/>
<line x1="369.9" y1="319.9" x2="369.9" y2="322.5" stroke="#2e2e2e" stroke-width="1"/>
<g transform="translate(294.8,329.3) rotate(-45)"><text x="0" y="0" font-size="8.2" fill="#2e2e2e" stroke="#2e2e2e" stroke-width="0.1" text-anchor="end" textLength="27" lengthAdjust="spacingAndGlyphs">Control</text></g>
<g transform="translate(310.6,329.3) rotate(-45)"><text x="0" y="0" font-size="8.2" fill="#2e2e2e" stroke="#2e2e2e" stroke-width="0.1" text-anchor="end" textLength="15" lengthAdjust="spacingAndGlyphs">KO1</text></g>
<g transform="translate(326.4,329.3) rotate(-45)"><text x="0" y="0" font-size="8.2" fill="#2e2e2e" stroke="#2e2e2e" stroke-width="0.1" text-anchor="end" textLength="15" lengthAdjust="spacingAndGlyphs">KO2</text></g>
<g transform="translate(342.3,329.3) rotate(-45)"><text x="0" y="0" font-size="8.2" fill="#2e2e2e" stroke="#2e2e2e" stroke-width="0.1" text-anchor="end" textLength="27" lengthAdjust="spacingAndGlyphs">Control</text></g>
<g transform="translate(358,329.3) rotate(-45)"><text x="0" y="0" font-size="8.2" fill="#2e2e2e" stroke="#2e2e2e" stroke-width="0.1" text-anchor="end" textLength="15" lengthAdjust="spacingAndGlyphs">KO1</text></g>
<g transform="translate(373.8,329.3) rotate(-45)"><text x="0" y="0" font-size="8.2" fill="#2e2e2e" stroke="#2e2e2e" stroke-width="0.1" text-anchor="end" textLength="15" lengthAdjust="spacingAndGlyphs">KO2</text></g>
<line x1="282" y1="355.6" x2="325" y2="355.6" stroke="#444" stroke-width="1.1"/>
<line x1="334.5" y1="355.6" x2="377.5" y2="355.6" stroke="#444" stroke-width="1.1"/>
<text x="291.3" y="365" font-size="6.8" fill="#2e2e2e" textLength="23.2" lengthAdjust="spacingAndGlyphs" stroke="#2e2e2e" stroke-width="0.1">20% O</text>
<text x="314.7" y="367" font-size="4.8" fill="#2e2e2e" text-anchor="start" stroke="#2e2e2e" stroke-width="0.1">2</text>
<text x="345" y="365" font-size="6.8" fill="#2e2e2e" textLength="18.8" lengthAdjust="spacingAndGlyphs" stroke="#2e2e2e" stroke-width="0.1">2% O</text>
<text x="364" y="367" font-size="4.8" fill="#2e2e2e" text-anchor="start" stroke="#2e2e2e" stroke-width="0.1">2</text>
<g transform="translate(240.7,268.1) rotate(-90)"><text x="-41.4" y="0" font-size="8.4" fill="#2e2e2e" stroke="#2e2e2e" stroke-width="0.1" textLength="82.8" lengthAdjust="spacingAndGlyphs">Glucose uptake (arbitary)</text></g>
<polyline points="289.5,213.8 289.5,194.4 339.7,194.4 339.7,198" fill="none" stroke="#444" stroke-width="0.9"/>
<circle cx="314.5" cy="190.6" r="1" fill="#333"/>
<polyline points="289.5,233.9 289.5,230.8 322.7,230.8 322.7,267.2" fill="none" stroke="#444" stroke-width="0.9"/>
<circle cx="306.4" cy="227" r="1" fill="#333"/>
<polyline points="289.5,245.6 289.5,242.6 306.4,242.6 306.4,264.6" fill="none" stroke="#444" stroke-width="0.9"/>
<circle cx="298" cy="239.2" r="1" fill="#333"/>
<polyline points="339.2,207.1 339.2,204.3 372.2,204.3 372.2,240.9" fill="none" stroke="#444" stroke-width="0.9"/>
<circle cx="352.2" cy="200.5" r="1" fill="#333"/>
<circle cx="355.5" cy="200.5" r="1" fill="#333"/>
<circle cx="358.8" cy="200.5" r="1" fill="#333"/>
<polyline points="339.2,218.5 339.2,215.5 356.2,215.5 356.2,237.5" fill="none" stroke="#444" stroke-width="0.9"/>
<circle cx="346.05" cy="212.2" r="1" fill="#333"/>
<circle cx="349.35" cy="212.2" r="1" fill="#333"/>
<text x="405.3" y="203.6" font-size="10.47" font-weight="bold" fill="#111" stroke="#111" stroke-width="0.2" textLength="5.6" lengthAdjust="spacingAndGlyphs">E</text>
<line x1="450.6" y1="216.3" x2="450.6" y2="320.4" stroke="#2e2e2e" stroke-width="1.3"/>
<line x1="450.1" y1="319.9" x2="512.8" y2="319.9" stroke="#2e2e2e" stroke-width="1.3"/>
<line x1="447.2" y1="319.9" x2="450.6" y2="319.9" stroke="#2e2e2e" stroke-width="1"/>
<text x="445.8" y="322.5" font-size="7.4" fill="#2e2e2e" text-anchor="end" stroke="#2e2e2e" stroke-width="0.1">0</text>
<line x1="447.2" y1="285.4" x2="450.6" y2="285.4" stroke="#2e2e2e" stroke-width="1"/>
<text x="420" y="287.5" font-size="7.6" fill="#2e2e2e" textLength="3.8" lengthAdjust="spacingAndGlyphs" stroke="#2e2e2e" stroke-width="0.1">1</text>
<line x1="426.85" y1="283.1" x2="430.85" y2="287.1" stroke="#2e2e2e" stroke-width="0.75"/>
<line x1="426.85" y1="287.1" x2="430.85" y2="283.1" stroke="#2e2e2e" stroke-width="0.75"/>
<text x="433.5" y="287.5" font-size="7.6" fill="#2e2e2e" textLength="7.9" lengthAdjust="spacingAndGlyphs" stroke="#2e2e2e" stroke-width="0.1">10</text>
<text x="441.6" y="284.1" font-size="5.6" fill="#2e2e2e" text-anchor="start" stroke="#2e2e2e" stroke-width="0.1">3</text>
<line x1="447.2" y1="250.9" x2="450.6" y2="250.9" stroke="#2e2e2e" stroke-width="1"/>
<text x="420" y="253" font-size="7.6" fill="#2e2e2e" textLength="3.8" lengthAdjust="spacingAndGlyphs" stroke="#2e2e2e" stroke-width="0.1">2</text>
<line x1="426.85" y1="248.6" x2="430.85" y2="252.6" stroke="#2e2e2e" stroke-width="0.75"/>
<line x1="426.85" y1="252.6" x2="430.85" y2="248.6" stroke="#2e2e2e" stroke-width="0.75"/>
<text x="433.5" y="253" font-size="7.6" fill="#2e2e2e" textLength="7.9" lengthAdjust="spacingAndGlyphs" stroke="#2e2e2e" stroke-width="0.1">10</text>
<text x="441.6" y="249.6" font-size="5.6" fill="#2e2e2e" text-anchor="start" stroke="#2e2e2e" stroke-width="0.1">3</text>
<line x1="447.2" y1="216.4" x2="450.6" y2="216.4" stroke="#2e2e2e" stroke-width="1"/>
<text x="420" y="218.5" font-size="7.6" fill="#2e2e2e" textLength="3.8" lengthAdjust="spacingAndGlyphs" stroke="#2e2e2e" stroke-width="0.1">3</text>
<line x1="426.85" y1="214.1" x2="430.85" y2="218.1" stroke="#2e2e2e" stroke-width="0.75"/>
<line x1="426.85" y1="218.1" x2="430.85" y2="214.1" stroke="#2e2e2e" stroke-width="0.75"/>
<text x="433.5" y="218.5" font-size="7.6" fill="#2e2e2e" textLength="7.9" lengthAdjust="spacingAndGlyphs" stroke="#2e2e2e" stroke-width="0.1">10</text>
<text x="441.6" y="215.1" font-size="5.6" fill="#2e2e2e" text-anchor="start" stroke="#2e2e2e" stroke-width="0.1">3</text>
<line x1="466.3" y1="319.9" x2="466.3" y2="322.7" stroke="#2e2e2e" stroke-width="1"/>
<line x1="497.6" y1="319.9" x2="497.6" y2="322.7" stroke="#2e2e2e" stroke-width="1"/>
<text x="453" y="333.3" font-size="7.8" fill="#2e2e2e" textLength="26.5" lengthAdjust="spacingAndGlyphs" stroke="#2e2e2e" stroke-width="0.1">Control</text>
<text x="490.4" y="333.3" font-size="7.8" fill="#2e2e2e" textLength="14.4" lengthAdjust="spacingAndGlyphs" stroke="#2e2e2e" stroke-width="0.1">KD1</text>
<g transform="translate(413.7,268.2) rotate(-90)"><text x="-35.45" y="0" font-size="8.5" fill="#2e2e2e" stroke="#2e2e2e" stroke-width="0.1" textLength="70.9" lengthAdjust="spacingAndGlyphs">Glucose uptake (MFI)</text></g>
<polyline points="466.3,217 466.3,211.7 497.6,211.7 497.6,259" fill="none" stroke="#444" stroke-width="0.9"/>
<circle cx="478.9" cy="208.1" r="1" fill="#333"/>
<circle cx="482.2" cy="208.1" r="1" fill="#333"/>
<circle cx="485.5" cy="208.1" r="1" fill="#333"/>
<circle cx="462.1" cy="231" r="2.1" fill="#c8203a"/>
<circle cx="470.6" cy="229.6" r="2.1" fill="#c8203a"/>
<circle cx="466.3" cy="242.3" r="2.1" fill="#c8203a"/>
<circle cx="466.3" cy="250" r="2.1" fill="#c8203a"/>
<circle cx="462.1" cy="255" r="2.1" fill="#c8203a"/>
<circle cx="470.6" cy="255" r="2.1" fill="#c8203a"/>
<circle cx="466.3" cy="259.1" r="2.1" fill="#c8203a"/>
<circle cx="466.3" cy="268.8" r="2.1" fill="#c8203a"/>
<line x1="456" y1="249" x2="476.6" y2="249" stroke="#c8203a" stroke-width="1.2"/>
<line x1="466.3" y1="243.8" x2="466.3" y2="253.5" stroke="#c8203a" stroke-width="1"/>
<line x1="461" y1="243.8" x2="471.6" y2="243.8" stroke="#c8203a" stroke-width="1"/>
<line x1="461" y1="253.5" x2="471.6" y2="253.5" stroke="#c8203a" stroke-width="1"/>
<rect x="495.3" y="273.9" width="4" height="4" fill="#134e8a"/>
<rect x="495.3" y="279.9" width="4" height="4" fill="#134e8a"/>
<rect x="491.1" y="291.8" width="4" height="4" fill="#134e8a"/>
<rect x="491.1" y="295.6" width="4" height="4" fill="#134e8a"/>
<rect x="499.9" y="288.8" width="4" height="4" fill="#134e8a"/>
<rect x="499.9" y="293.3" width="4" height="4" fill="#134e8a"/>
<rect x="491.1" y="288.5" width="4" height="4" fill="#134e8a"/>
<line x1="487.2" y1="289.1" x2="507.8" y2="289.1" stroke="#134e8a" stroke-width="1.2"/>
<line x1="497.5" y1="285.6" x2="497.5" y2="292.6" stroke="#134e8a" stroke-width="1"/>
<line x1="492.5" y1="285.6" x2="502.5" y2="285.6" stroke="#134e8a" stroke-width="1"/>
<line x1="492.5" y1="292.6" x2="502.5" y2="292.6" stroke="#134e8a" stroke-width="1"/>
<text x="7.8" y="401.7" font-size="10.75" font-weight="bold" fill="#111" stroke="#111" stroke-width="0.2" textLength="5.3" lengthAdjust="spacingAndGlyphs">F</text>
<rect x="60.8" y="466" width="12.78" height="10.88" fill="#b8bce2"/>
<rect x="73.28" y="466" width="12.78" height="10.88" fill="#b8bce2"/>
<rect x="85.75" y="466" width="12.78" height="10.88" fill="#f08089"/>
<rect x="98.23" y="466" width="12.78" height="10.88" fill="#f8cfd3"/>
<rect x="110.71" y="466" width="12.78" height="10.88" fill="#f39aa1"/>
<rect x="123.18" y="466" width="12.78" height="10.88" fill="#f5aab0"/>
<rect x="135.66" y="466" width="12.78" height="10.88" fill="#a0a8d8"/>
<rect x="148.14" y="466" width="12.78" height="10.88" fill="#ee5660"/>
<rect x="160.61" y="466" width="12.78" height="10.88" fill="#b8bde3"/>
<rect x="173.09" y="466" width="12.78" height="10.88" fill="#b4b9e0"/>
<rect x="185.56" y="466" width="12.78" height="10.88" fill="#9ca3d7"/>
<rect x="198.04" y="466" width="12.78" height="10.88" fill="#f8cdd1"/>
<rect x="210.52" y="466" width="12.78" height="10.88" fill="#9ba2d6"/>
<rect x="222.99" y="466" width="12.78" height="10.88" fill="#bfc3e5"/>
<rect x="235.47" y="466" width="12.78" height="10.88" fill="#dfe1f2"/>
<rect x="247.95" y="466" width="12.78" height="10.88" fill="#cfd1ec"/>
<rect x="260.42" y="466" width="12.78" height="10.88" fill="#d6d8ef"/>
<rect x="60.8" y="476.57" width="12.78" height="10.88" fill="#7880c4"/>
<rect x="73.28" y="476.57" width="12.78" height="10.88" fill="#8088c8"/>
<rect x="85.75" y="476.57" width="12.78" height="10.88" fill="#f08089"/>
<rect x="98.23" y="476.57" width="12.78" height="10.88" fill="#f5a3aa"/>
<rect x="110.71" y="476.57" width="12.78" height="10.88" fill="#e8303a"/>
<rect x="123.18" y="476.57" width="12.78" height="10.88" fill="#ee6870"/>
<rect x="135.66" y="476.57" width="12.78" height="10.88" fill="#a0a8d8"/>
<rect x="148.14" y="476.57" width="12.78" height="10.88" fill="#ee5a64"/>
<rect x="160.61" y="476.57" width="12.78" height="10.88" fill="#c0c3e5"/>
<rect x="173.09" y="476.57" width="12.78" height="10.88" fill="#9aa2d6"/>
<rect x="185.56" y="476.57" width="12.78" height="10.88" fill="#a2a8d9"/>
<rect x="198.04" y="476.57" width="12.78" height="10.88" fill="#f394a0"/>
<rect x="210.52" y="476.57" width="12.78" height="10.88" fill="#b8bce2"/>
<rect x="222.99" y="476.57" width="12.78" height="10.88" fill="#b8bce2"/>
<rect x="235.47" y="476.57" width="12.78" height="10.88" fill="#dcdef1"/>
<rect x="247.95" y="476.57" width="12.78" height="10.88" fill="#b8bce2"/>
<rect x="260.42" y="476.57" width="12.78" height="10.88" fill="#d6d8ef"/>
<rect x="60.8" y="487.15" width="12.78" height="10.88" fill="#9098d0"/>
<rect x="73.28" y="487.15" width="12.78" height="10.88" fill="#b0b4dd"/>
<rect x="85.75" y="487.15" width="12.78" height="10.88" fill="#a0a6d8"/>
<rect x="98.23" y="487.15" width="12.78" height="10.88" fill="#c8cbe8"/>
<rect x="110.71" y="487.15" width="12.78" height="10.88" fill="#ececf7"/>
<rect x="123.18" y="487.15" width="12.78" height="10.88" fill="#f8c0c5"/>
<rect x="135.66" y="487.15" width="12.78" height="10.88" fill="#c4c8e8"/>
<rect x="148.14" y="487.15" width="12.78" height="10.88" fill="#f5b0b5"/>
<rect x="160.61" y="487.15" width="12.78" height="10.88" fill="#e8e9f5"/>
<rect x="173.09" y="487.15" width="12.78" height="10.88" fill="#9aa2d6"/>
<rect x="185.56" y="487.15" width="12.78" height="10.88" fill="#a4aada"/>
<rect x="198.04" y="487.15" width="12.78" height="10.88" fill="#f8d0d4"/>
<rect x="210.52" y="487.15" width="12.78" height="10.88" fill="#bfc3e5"/>
<rect x="222.99" y="487.15" width="12.78" height="10.88" fill="#aeb3dd"/>
<rect x="235.47" y="487.15" width="12.78" height="10.88" fill="#dcdef1"/>
<rect x="247.95" y="487.15" width="12.78" height="10.88" fill="#dcdef1"/>
<rect x="260.42" y="487.15" width="12.78" height="10.88" fill="#c8cbe8"/>
<rect x="60.8" y="497.73" width="12.78" height="10.88" fill="#5869b8"/>
<rect x="73.28" y="497.73" width="12.78" height="10.88" fill="#b0b4dd"/>
<rect x="85.75" y="497.73" width="12.78" height="10.88" fill="#a0a6d8"/>
<rect x="98.23" y="497.73" width="12.78" height="10.88" fill="#b8bce2"/>
<rect x="110.71" y="497.73" width="12.78" height="10.88" fill="#d3d6ee"/>
<rect x="123.18" y="497.73" width="12.78" height="10.88" fill="#f8c0c5"/>
<rect x="135.66" y="497.73" width="12.78" height="10.88" fill="#c4c8e8"/>
<rect x="148.14" y="497.73" width="12.78" height="10.88" fill="#f5b5ba"/>
<rect x="160.61" y="497.73" width="12.78" height="10.88" fill="#e6e8f5"/>
<rect x="173.09" y="497.73" width="12.78" height="10.88" fill="#6e7bc2"/>
<rect x="185.56" y="497.73" width="12.78" height="10.88" fill="#b0b5de"/>
<rect x="198.04" y="497.73" width="12.78" height="10.88" fill="#f5afb5"/>
<rect x="210.52" y="497.73" width="12.78" height="10.88" fill="#a6acdb"/>
<rect x="222.99" y="497.73" width="12.78" height="10.88" fill="#c4c8e8"/>
<rect x="235.47" y="497.73" width="12.78" height="10.88" fill="#e6e7f5"/>
<rect x="247.95" y="497.73" width="12.78" height="10.88" fill="#e6e7f5"/>
<rect x="260.42" y="497.73" width="12.78" height="10.88" fill="#c8cbe8"/>
<rect x="60.8" y="466" width="212.1" height="42.3" fill="none" stroke="#222" stroke-width="1.4"/>
<g transform="translate(69.02,462.9) rotate(-90)"><text x="0" y="0" font-size="7.2" fill="#2e2e2e" stroke="#2e2e2e" stroke-width="0.1" textLength="20.2" lengthAdjust="spacingAndGlyphs">G-6-P</text></g>
<g transform="translate(81.49,462.9) rotate(-90)"><text x="0" y="0" font-size="7.2" fill="#2e2e2e" stroke="#2e2e2e" stroke-width="0.1" textLength="19.5" lengthAdjust="spacingAndGlyphs">F-6-P</text></g>
<g transform="translate(93.97,462.9) rotate(-90)"><text x="0" y="0" font-size="7.2" fill="#2e2e2e" stroke="#2e2e2e" stroke-width="0.1" textLength="13.5" lengthAdjust="spacingAndGlyphs">FBP</text></g>
<g transform="translate(106.45,462.9) rotate(-90)"><text x="0" y="0" font-size="7.2" fill="#2e2e2e" stroke="#2e2e2e" stroke-width="0.1" textLength="19.5" lengthAdjust="spacingAndGlyphs">DHAP</text></g>
<g transform="translate(118.92,462.9) rotate(-90)"><text x="0" y="0" font-size="7.2" fill="#2e2e2e" stroke="#2e2e2e" stroke-width="0.1" textLength="14" lengthAdjust="spacingAndGlyphs">3PG</text></g>
<g transform="translate(131.4,462.9) rotate(-90)"><text x="0" y="0" font-size="7.2" fill="#2e2e2e" stroke="#2e2e2e" stroke-width="0.1" textLength="13.5" lengthAdjust="spacingAndGlyphs">PEP</text></g>
<g transform="translate(143.87,462.9) rotate(-90)"><text x="0" y="0" font-size="7.2" fill="#2e2e2e" stroke="#2e2e2e" stroke-width="0.1" textLength="29.2" lengthAdjust="spacingAndGlyphs">Pyruvate</text></g>
<g transform="translate(156.35,462.9) rotate(-90)"><text x="0" y="0" font-size="7.2" fill="#2e2e2e" stroke="#2e2e2e" stroke-width="0.1" textLength="25" lengthAdjust="spacingAndGlyphs">Lactate</text></g>
<g transform="translate(168.83,462.9) rotate(-90)"><text x="0" y="0" font-size="7.2" fill="#2e2e2e" stroke="#2e2e2e" stroke-width="0.1" textLength="32.8" lengthAdjust="spacingAndGlyphs">ATP/ADP</text></g>
<g transform="translate(181.3,462.9) rotate(-90)"><text x="0" y="0" font-size="7.2" fill="#2e2e2e" stroke="#2e2e2e" stroke-width="0.1" textLength="19" lengthAdjust="spacingAndGlyphs">S-7-P</text></g>
<g transform="translate(193.78,462.9) rotate(-90)"><text x="0" y="0" font-size="7.2" fill="#2e2e2e" stroke="#2e2e2e" stroke-width="0.1" textLength="19" lengthAdjust="spacingAndGlyphs">R-5-P</text></g>
<g transform="translate(206.26,462.9) rotate(-90)"><text x="0" y="0" font-size="7.2" fill="#2e2e2e" stroke="#2e2e2e" stroke-width="0.1" textLength="57" lengthAdjust="spacingAndGlyphs">NADP+/NADPH</text></g>
<g transform="translate(218.73,462.9) rotate(-90)"><text x="0" y="0" font-size="7.2" fill="#2e2e2e" stroke="#2e2e2e" stroke-width="0.1" textLength="15.5" lengthAdjust="spacingAndGlyphs">AMP</text></g>
<g transform="translate(231.21,462.9) rotate(-90)"><text x="0" y="0" font-size="7.2" fill="#2e2e2e" stroke="#2e2e2e" stroke-width="0.1" textLength="16" lengthAdjust="spacingAndGlyphs">UMP</text></g>
<g transform="translate(243.69,462.9) rotate(-90)"><text x="0" y="0" font-size="7.2" fill="#2e2e2e" stroke="#2e2e2e" stroke-width="0.1" textLength="14" lengthAdjust="spacingAndGlyphs">CTP</text></g>
<g transform="translate(256.16,462.9) rotate(-90)"><text x="0" y="0" font-size="7.2" fill="#2e2e2e" stroke="#2e2e2e" stroke-width="0.1" textLength="14.5" lengthAdjust="spacingAndGlyphs">GTP</text></g>
<g transform="translate(268.64,462.9) rotate(-90)"><text x="0" y="0" font-size="7.2" fill="#2e2e2e" stroke="#2e2e2e" stroke-width="0.1" textLength="14.5" lengthAdjust="spacingAndGlyphs">UTP</text></g>
<text x="7" y="473.8" font-size="7.9" fill="#2e2e2e" textLength="22.6" lengthAdjust="spacingAndGlyphs" stroke="#2e2e2e" stroke-width="0.1">20% O</text>
<text x="29.8" y="475.4" font-size="5.2" fill="#2e2e2e" text-anchor="start" stroke="#2e2e2e" stroke-width="0.1">2</text>
<text x="36.2" y="473.8" font-size="7.9" fill="#2e2e2e" textLength="20" lengthAdjust="spacingAndGlyphs" stroke="#2e2e2e" stroke-width="0.1">- KO1</text>
<text x="7" y="484.5" font-size="7.9" fill="#2e2e2e" textLength="22.6" lengthAdjust="spacingAndGlyphs" stroke="#2e2e2e" stroke-width="0.1">20% O</text>
<text x="29.8" y="486.1" font-size="5.2" fill="#2e2e2e" text-anchor="start" stroke="#2e2e2e" stroke-width="0.1">2</text>
<text x="36.2" y="484.5" font-size="7.9" fill="#2e2e2e" textLength="20.2" lengthAdjust="spacingAndGlyphs" stroke="#2e2e2e" stroke-width="0.1">- KO2</text>
<text x="11.4" y="495.3" font-size="7.9" fill="#2e2e2e" textLength="18.2" lengthAdjust="spacingAndGlyphs" stroke="#2e2e2e" stroke-width="0.1">2% O</text>
<text x="29.8" y="496.9" font-size="5.2" fill="#2e2e2e" text-anchor="start" stroke="#2e2e2e" stroke-width="0.1">2</text>
<text x="36.2" y="495.3" font-size="7.9" fill="#2e2e2e" textLength="20" lengthAdjust="spacingAndGlyphs" stroke="#2e2e2e" stroke-width="0.1">- KO1</text>
<text x="11.4" y="506.2" font-size="7.9" fill="#2e2e2e" textLength="18.2" lengthAdjust="spacingAndGlyphs" stroke="#2e2e2e" stroke-width="0.1">2% O</text>
<text x="29.8" y="507.8" font-size="5.2" fill="#2e2e2e" text-anchor="start" stroke="#2e2e2e" stroke-width="0.1">2</text>
<text x="36.2" y="506.2" font-size="7.9" fill="#2e2e2e" textLength="20.2" lengthAdjust="spacingAndGlyphs" stroke="#2e2e2e" stroke-width="0.1">- KO2</text>
<defs><linearGradient id="cb" x1="0" y1="0" x2="0" y2="1"><stop offset="0" stop-color="#ef3340"/><stop offset="0.08" stop-color="#ee3b48"/><stop offset="0.68" stop-color="#ffffff"/><stop offset="1" stop-color="#4255ad"/></linearGradient></defs>
<rect x="280.5" y="466" width="10.6" height="42.3" fill="url(#cb)" stroke="#222" stroke-width="1.2"/>
<line x1="281" y1="470.4" x2="282.6" y2="470.4" stroke="#333" stroke-width="0.8"/>
<line x1="289" y1="470.4" x2="290.6" y2="470.4" stroke="#333" stroke-width="0.8"/>
<text x="294" y="473" font-size="7.4" fill="#2e2e2e" textLength="10.6" lengthAdjust="spacingAndGlyphs" stroke="#2e2e2e" stroke-width="0.1">2.0</text>
<line x1="281" y1="482.4" x2="282.6" y2="482.4" stroke="#333" stroke-width="0.8"/>
<line x1="289" y1="482.4" x2="290.6" y2="482.4" stroke="#333" stroke-width="0.8"/>
<text x="294" y="485" font-size="7.4" fill="#2e2e2e" textLength="10.6" lengthAdjust="spacingAndGlyphs" stroke="#2e2e2e" stroke-width="0.1">1.5</text>
<line x1="281" y1="494.4" x2="282.6" y2="494.4" stroke="#333" stroke-width="0.8"/>
<line x1="289" y1="494.4" x2="290.6" y2="494.4" stroke="#333" stroke-width="0.8"/>
<text x="294" y="497" font-size="7.4" fill="#2e2e2e" textLength="10.6" lengthAdjust="spacingAndGlyphs" stroke="#2e2e2e" stroke-width="0.1">1.0</text>
<line x1="281" y1="506" x2="282.6" y2="506" stroke="#333" stroke-width="0.8"/>
<line x1="289" y1="506" x2="290.6" y2="506" stroke="#333" stroke-width="0.8"/>
<text x="294" y="508.6" font-size="7.4" fill="#2e2e2e" textLength="10.6" lengthAdjust="spacingAndGlyphs" stroke="#2e2e2e" stroke-width="0.1">0.5</text>
<line x1="61.9" y1="514.7" x2="167.2" y2="514.7" stroke="#555" stroke-width="1.3"/>
<line x1="176" y1="514.7" x2="268" y2="514.7" stroke="#555" stroke-width="1.3"/>
<text x="97.8" y="525.3" font-size="7.8" fill="#2e2e2e" textLength="34.9" lengthAdjust="spacingAndGlyphs" stroke="#2e2e2e" stroke-width="0.1">Glycolysis</text>
<text x="215" y="525.3" font-size="7.8" fill="#2e2e2e" textLength="14.1" lengthAdjust="spacingAndGlyphs" stroke="#2e2e2e" stroke-width="0.1">PPP</text>
<text x="317.9" y="401.5" font-size="10.2" font-weight="bold" fill="#111" stroke="#111" stroke-width="0.2" textLength="7.7" lengthAdjust="spacingAndGlyphs">G</text>
<line x1="357.6" y1="403.8" x2="357.6" y2="507.1" stroke="#2e2e2e" stroke-width="1.3"/>
<line x1="357.1" y1="506.6" x2="512.6" y2="506.6" stroke="#2e2e2e" stroke-width="1.3"/>
<line x1="354.4" y1="506.6" x2="357.6" y2="506.6" stroke="#2e2e2e" stroke-width="1"/>
<text x="341.1" y="509.1" font-size="8" fill="#2e2e2e" textLength="10.5" lengthAdjust="spacingAndGlyphs" stroke="#2e2e2e" stroke-width="0.1">0.0</text>
<line x1="354.4" y1="463.45" x2="357.6" y2="463.45" stroke="#2e2e2e" stroke-width="1"/>
<text x="341.1" y="465.95" font-size="8" fill="#2e2e2e" textLength="10.5" lengthAdjust="spacingAndGlyphs" stroke="#2e2e2e" stroke-width="0.1">0.5</text>
<line x1="354.4" y1="420.3" x2="357.6" y2="420.3" stroke="#2e2e2e" stroke-width="1"/>
<text x="341.1" y="422.8" font-size="8" fill="#2e2e2e" textLength="10.5" lengthAdjust="spacingAndGlyphs" stroke="#2e2e2e" stroke-width="0.1">1.0</text>
<rect x="361.4" y="474.6" width="8.1" height="31.5" fill="#c8203a"/>
<line x1="365.45" y1="472.1" x2="365.45" y2="474.6" stroke="#505050" stroke-width="1.1"/>
<line x1="362.85" y1="472.1" x2="368.05" y2="472.1" stroke="#333" stroke-width="1.2"/>
<line x1="365.45" y1="506.6" x2="365.45" y2="509" stroke="#2e2e2e" stroke-width="1"/>
<g transform="translate(369.85,515.2) rotate(-45)"><text x="0" y="0" font-size="8.5" fill="#2e2e2e" stroke="#2e2e2e" stroke-width="0.1" text-anchor="end" textLength="13.5" lengthAdjust="spacingAndGlyphs">Veh</text></g>
<rect x="373.1" y="452.4" width="8.1" height="53.7" fill="#134e8a"/>
<line x1="377.15" y1="447.1" x2="377.15" y2="452.4" stroke="#505050" stroke-width="1.1"/>
<line x1="374.55" y1="447.1" x2="379.75" y2="447.1" stroke="#333" stroke-width="1.2"/>
<line x1="377.15" y1="506.6" x2="377.15" y2="509" stroke="#2e2e2e" stroke-width="1"/>
<g transform="translate(381.55,515.2) rotate(-45)"><text x="0" y="0" font-size="8.5" fill="#2e2e2e" stroke="#2e2e2e" stroke-width="0.1" text-anchor="end" textLength="9.6" lengthAdjust="spacingAndGlyphs">Nu</text></g>
<rect x="384.9" y="452.4" width="8.1" height="53.7" fill="#3bb54a"/>
<line x1="388.95" y1="448.2" x2="388.95" y2="452.4" stroke="#505050" stroke-width="1.1"/>
<line x1="386.35" y1="448.2" x2="391.55" y2="448.2" stroke="#333" stroke-width="1.2"/>
<line x1="388.95" y1="506.6" x2="388.95" y2="509" stroke="#2e2e2e" stroke-width="1"/>
<g transform="translate(393.35,515.2) rotate(-45)"><text x="0" y="0" font-size="8.5" fill="#2e2e2e" stroke="#2e2e2e" stroke-width="0.1" text-anchor="end" textLength="5" lengthAdjust="spacingAndGlyphs">R</text></g>
<rect x="396.6" y="448.8" width="8.1" height="57.3" fill="#5c2670"/>
<line x1="400.65" y1="444.6" x2="400.65" y2="448.8" stroke="#505050" stroke-width="1.1"/>
<line x1="398.05" y1="444.6" x2="403.25" y2="444.6" stroke="#333" stroke-width="1.2"/>
<line x1="400.65" y1="506.6" x2="400.65" y2="509" stroke="#2e2e2e" stroke-width="1"/>
<g transform="translate(405.05,515.2) rotate(-45)"><text x="0" y="0" font-size="8.5" fill="#2e2e2e" stroke="#2e2e2e" stroke-width="0.1" text-anchor="end" textLength="4.2" lengthAdjust="spacingAndGlyphs">L</text></g>
<rect x="408.4" y="449.5" width="8.1" height="56.6" fill="#f7941e"/>
<line x1="412.45" y1="443.9" x2="412.45" y2="449.5" stroke="#505050" stroke-width="1.1"/>
<line x1="409.85" y1="443.9" x2="415.05" y2="443.9" stroke="#333" stroke-width="1.2"/>
<line x1="412.45" y1="506.6" x2="412.45" y2="509" stroke="#2e2e2e" stroke-width="1"/>
<g transform="translate(416.85,515.2) rotate(-45)"><text x="0" y="0" font-size="8.5" fill="#2e2e2e" stroke="#2e2e2e" stroke-width="0.1" text-anchor="end" textLength="4.8" lengthAdjust="spacingAndGlyphs">P</text></g>
<rect x="420.2" y="431.2" width="8.1" height="74.9" fill="#0e6b52"/>
<line x1="424.25" y1="425.4" x2="424.25" y2="431.2" stroke="#505050" stroke-width="1.1"/>
<line x1="421.65" y1="425.4" x2="426.85" y2="425.4" stroke="#333" stroke-width="1.2"/>
<line x1="424.25" y1="506.6" x2="424.25" y2="509" stroke="#2e2e2e" stroke-width="1"/>
<g transform="translate(428.65,515.2) rotate(-45)"><text x="0" y="0" font-size="8.5" fill="#2e2e2e" stroke="#2e2e2e" stroke-width="0.1" text-anchor="end" textLength="19" lengthAdjust="spacingAndGlyphs">R + P</text></g>
<rect x="442" y="484.5" width="8.1" height="21.6" fill="#c8203a"/>
<line x1="446.05" y1="482.4" x2="446.05" y2="484.5" stroke="#505050" stroke-width="1.1"/>
<line x1="443.45" y1="482.4" x2="448.65" y2="482.4" stroke="#333" stroke-width="1.2"/>
<line x1="446.05" y1="506.6" x2="446.05" y2="509" stroke="#2e2e2e" stroke-width="1"/>
<g transform="translate(450.45,515.2) rotate(-45)"><text x="0" y="0" font-size="8.5" fill="#2e2e2e" stroke="#2e2e2e" stroke-width="0.1" text-anchor="end" textLength="13.5" lengthAdjust="spacingAndGlyphs">Veh</text></g>
<rect x="453.8" y="445" width="8.1" height="61.1" fill="#134e8a"/>
<line x1="457.85" y1="443.2" x2="457.85" y2="445" stroke="#505050" stroke-width="1.1"/>
<line x1="455.25" y1="443.2" x2="460.45" y2="443.2" stroke="#333" stroke-width="1.2"/>
<line x1="457.85" y1="506.6" x2="457.85" y2="509" stroke="#2e2e2e" stroke-width="1"/>
<g transform="translate(462.25,515.2) rotate(-45)"><text x="0" y="0" font-size="8.5" fill="#2e2e2e" stroke="#2e2e2e" stroke-width="0.1" text-anchor="end" textLength="9.6" lengthAdjust="spacingAndGlyphs">Nu</text></g>
<rect x="465.5" y="455.9" width="8.1" height="50.2" fill="#3bb54a"/>
<line x1="469.55" y1="448.9" x2="469.55" y2="455.9" stroke="#505050" stroke-width="1.1"/>
<line x1="466.95" y1="448.9" x2="472.15" y2="448.9" stroke="#333" stroke-width="1.2"/>
<line x1="469.55" y1="506.6" x2="469.55" y2="509" stroke="#2e2e2e" stroke-width="1"/>
<g transform="translate(473.95,515.2) rotate(-45)"><text x="0" y="0" font-size="8.5" fill="#2e2e2e" stroke="#2e2e2e" stroke-width="0.1" text-anchor="end" textLength="5" lengthAdjust="spacingAndGlyphs">R</text></g>
<rect x="477.3" y="442.5" width="8.1" height="63.6" fill="#5c2670"/>
<line x1="481.35" y1="439.2" x2="481.35" y2="442.5" stroke="#505050" stroke-width="1.1"/>
<line x1="478.75" y1="439.2" x2="483.95" y2="439.2" stroke="#333" stroke-width="1.2"/>
<line x1="481.35" y1="506.6" x2="481.35" y2="509" stroke="#2e2e2e" stroke-width="1"/>
<g transform="translate(485.75,515.2) rotate(-45)"><text x="0" y="0" font-size="8.5" fill="#2e2e2e" stroke="#2e2e2e" stroke-width="0.1" text-anchor="end" textLength="4.2" lengthAdjust="spacingAndGlyphs">L</text></g>
<rect x="489.1" y="446.2" width="8.1" height="59.9" fill="#f7941e"/>
<line x1="493.15" y1="442.9" x2="493.15" y2="446.2" stroke="#505050" stroke-width="1.1"/>
<line x1="490.55" y1="442.9" x2="495.75" y2="442.9" stroke="#333" stroke-width="1.2"/>
<line x1="493.15" y1="506.6" x2="493.15" y2="509" stroke="#2e2e2e" stroke-width="1"/>
<g transform="translate(497.55,515.2) rotate(-45)"><text x="0" y="0" font-size="8.5" fill="#2e2e2e" stroke="#2e2e2e" stroke-width="0.1" text-anchor="end" textLength="4.8" lengthAdjust="spacingAndGlyphs">P</text></g>
<rect x="500.9" y="427" width="8.1" height="79.1" fill="#0e6b52"/>
<line x1="504.95" y1="421.9" x2="504.95" y2="427" stroke="#505050" stroke-width="1.1"/>
<line x1="502.35" y1="421.9" x2="507.55" y2="421.9" stroke="#333" stroke-width="1.2"/>
<line x1="504.95" y1="506.6" x2="504.95" y2="509" stroke="#2e2e2e" stroke-width="1"/>
<g transform="translate(509.35,515.2) rotate(-45)"><text x="0" y="0" font-size="8.5" fill="#2e2e2e" stroke="#2e2e2e" stroke-width="0.1" text-anchor="end" textLength="19" lengthAdjust="spacingAndGlyphs">R + P</text></g>
<circle cx="377.3" cy="429.1" r="1" fill="#333"/>
<circle cx="388.9" cy="429.1" r="1" fill="#333"/>
<circle cx="401" cy="429.1" r="1" fill="#333"/>
<circle cx="413" cy="429.1" r="1" fill="#333"/>
<circle cx="422.65" cy="421.9" r="1" fill="#333"/>
<circle cx="425.95" cy="421.9" r="1" fill="#333"/>
<circle cx="457.8" cy="430" r="1" fill="#333"/>
<circle cx="469.5" cy="430" r="1" fill="#333"/>
<circle cx="481.3" cy="430" r="1" fill="#333"/>
<circle cx="493.1" cy="430" r="1" fill="#333"/>
<circle cx="501.7" cy="418" r="1" fill="#333"/>
<circle cx="505" cy="418" r="1" fill="#333"/>
<circle cx="508.3" cy="418" r="1" fill="#333"/>
<line x1="359" y1="532.5" x2="430" y2="532.5" stroke="#444" stroke-width="1.1"/>
<line x1="439.7" y1="532.5" x2="510.3" y2="532.5" stroke="#444" stroke-width="1.1"/>
<text x="386.7" y="541.7" font-size="7.8" fill="#2e2e2e" textLength="14.7" lengthAdjust="spacingAndGlyphs" stroke="#2e2e2e" stroke-width="0.1">KO1</text>
<text x="466.3" y="541.7" font-size="7.8" fill="#2e2e2e" textLength="15.6" lengthAdjust="spacingAndGlyphs" stroke="#2e2e2e" stroke-width="0.1">KO2</text>
<g transform="translate(323.9,455) rotate(-90)"><text x="-20.15" y="0" font-size="8.6" fill="#2e2e2e" stroke="#2e2e2e" stroke-width="0.1" textLength="40.3" lengthAdjust="spacingAndGlyphs">Fold change</text></g>
<g transform="translate(336,454.7) rotate(-90)"><text x="-35.15" y="0" font-size="8.6" fill="#2e2e2e" stroke="#2e2e2e" stroke-width="0.1" textLength="70.3" lengthAdjust="spacingAndGlyphs">normalized to control</text></g>
<text x="7.8" y="562.7" font-size="10.47" font-weight="bold" fill="#111" stroke="#111" stroke-width="0.2" textLength="6.9" lengthAdjust="spacingAndGlyphs">H</text>
<line x1="51.3" y1="560.5" x2="51.3" y2="656" stroke="#2e2e2e" stroke-width="1.3"/>
<line x1="50.8" y1="655.5" x2="121.8" y2="655.5" stroke="#2e2e2e" stroke-width="1.3"/>
<line x1="48.1" y1="655.5" x2="51.3" y2="655.5" stroke="#2e2e2e" stroke-width="1"/>
<text x="45.3" y="658" font-size="8" fill="#2e2e2e" text-anchor="end" stroke="#2e2e2e" stroke-width="0.1">0</text>
<line x1="48.1" y1="636.5" x2="51.3" y2="636.5" stroke="#2e2e2e" stroke-width="1"/>
<text x="45.3" y="639" font-size="8" fill="#2e2e2e" text-anchor="end" stroke="#2e2e2e" stroke-width="0.1">10</text>
<line x1="48.1" y1="617.5" x2="51.3" y2="617.5" stroke="#2e2e2e" stroke-width="1"/>
<text x="45.3" y="620" font-size="8" fill="#2e2e2e" text-anchor="end" stroke="#2e2e2e" stroke-width="0.1">20</text>
<line x1="48.1" y1="598.5" x2="51.3" y2="598.5" stroke="#2e2e2e" stroke-width="1"/>
<text x="45.3" y="601" font-size="8" fill="#2e2e2e" text-anchor="end" stroke="#2e2e2e" stroke-width="0.1">30</text>
<line x1="48.1" y1="579.5" x2="51.3" y2="579.5" stroke="#2e2e2e" stroke-width="1"/>
<text x="45.3" y="582" font-size="8" fill="#2e2e2e" text-anchor="end" stroke="#2e2e2e" stroke-width="0.1">40</text>
<line x1="48.1" y1="560.5" x2="51.3" y2="560.5" stroke="#2e2e2e" stroke-width="1"/>
<text x="45.3" y="563" font-size="8" fill="#2e2e2e" text-anchor="end" stroke="#2e2e2e" stroke-width="0.1">50</text>
<line x1="61.5" y1="655.5" x2="61.5" y2="658.1" stroke="#2e2e2e" stroke-width="1"/>
<line x1="78.3" y1="655.5" x2="78.3" y2="658.1" stroke="#2e2e2e" stroke-width="1"/>
<line x1="94.5" y1="655.5" x2="94.5" y2="658.1" stroke="#2e2e2e" stroke-width="1"/>
<line x1="110.8" y1="655.5" x2="110.8" y2="658.1" stroke="#2e2e2e" stroke-width="1"/>
<g transform="translate(67,665) rotate(-45)"><text x="0" y="0" font-size="8.2" fill="#2e2e2e" stroke="#2e2e2e" stroke-width="0.1" text-anchor="end" textLength="27" lengthAdjust="spacingAndGlyphs">Control</text></g>
<g transform="translate(83.3,665) rotate(-45)"><text x="0" y="0" font-size="8.2" fill="#2e2e2e" stroke="#2e2e2e" stroke-width="0.1" text-anchor="end" textLength="14" lengthAdjust="spacingAndGlyphs">KD1</text></g>
<g transform="translate(99.5,665) rotate(-45)"><text x="0" y="0" font-size="8.2" fill="#2e2e2e" stroke="#2e2e2e" stroke-width="0.1" text-anchor="end" textLength="27" lengthAdjust="spacingAndGlyphs">Control</text></g>
<g transform="translate(115.8,665) rotate(-45)"><text x="0" y="0" font-size="8.2" fill="#2e2e2e" stroke="#2e2e2e" stroke-width="0.1" text-anchor="end" textLength="14" lengthAdjust="spacingAndGlyphs">KD1</text></g>
<line x1="57.5" y1="686.6" x2="82" y2="686.6" stroke="#444" stroke-width="1.1"/>
<line x1="90.5" y1="686.6" x2="114.5" y2="686.6" stroke="#444" stroke-width="1.1"/>
<text x="61.3" y="696.4" font-size="7.6" fill="#2e2e2e" textLength="16.7" lengthAdjust="spacingAndGlyphs" stroke="#2e2e2e" stroke-width="0.1">Blast</text>
<text x="97" y="696.4" font-size="7.6" fill="#2e2e2e" textLength="11.3" lengthAdjust="spacingAndGlyphs" stroke="#2e2e2e" stroke-width="0.1">LIC</text>
<g transform="translate(30.5,607.8) rotate(-90)"><text x="-41.7" y="0" font-size="8.6" fill="#2e2e2e" stroke="#2e2e2e" stroke-width="0.1" textLength="83.4" lengthAdjust="spacingAndGlyphs">Glucose uptake (arbitary)</text></g>
<polyline points="61.5,571.5 61.5,568.4 78.1,568.4 78.1,592" fill="none" stroke="#444" stroke-width="0.9"/>
<circle cx="69.5" cy="564.8" r="1" fill="#333"/>
<polyline points="90.4,611.9 90.4,608.3 106.3,608.3 106.3,616.5" fill="none" stroke="#444" stroke-width="0.9"/>
<circle cx="98.3" cy="604.4" r="1" fill="#333"/>
<circle cx="61.8" cy="578.5" r="2" fill="#c8203a"/>
<circle cx="58.4" cy="598.2" r="2" fill="#c8203a"/>
<circle cx="65.6" cy="598.2" r="2" fill="#c8203a"/>
<circle cx="58.4" cy="617.4" r="2" fill="#c8203a"/>
<circle cx="65.6" cy="617.4" r="2" fill="#c8203a"/>
<circle cx="61.8" cy="626.6" r="2" fill="#c8203a"/>
<circle cx="58.4" cy="635" r="2" fill="#c8203a"/>
<circle cx="65.6" cy="632.4" r="2" fill="#c8203a"/>
<line x1="56.4" y1="613.1" x2="67.6" y2="613.1" stroke="#c8203a" stroke-width="1.2"/>
<line x1="62" y1="606.4" x2="62" y2="619.8" stroke="#c8203a" stroke-width="1"/>
<line x1="59.3" y1="606.4" x2="64.7" y2="606.4" stroke="#c8203a" stroke-width="1"/>
<line x1="59.3" y1="619.8" x2="64.7" y2="619.8" stroke="#c8203a" stroke-width="1"/>
<circle cx="78.4" cy="600.1" r="1.9" fill="none" stroke="#134e8a" stroke-width="1"/>
<circle cx="76.7" cy="626.1" r="1.9" fill="none" stroke="#134e8a" stroke-width="1"/>
<circle cx="80" cy="626.1" r="1.9" fill="none" stroke="#134e8a" stroke-width="1"/>
<circle cx="74.6" cy="636.4" r="1.9" fill="none" stroke="#134e8a" stroke-width="1"/>
<circle cx="77.6" cy="636.4" r="1.9" fill="none" stroke="#134e8a" stroke-width="1"/>
<circle cx="80.6" cy="636.4" r="1.9" fill="none" stroke="#134e8a" stroke-width="1"/>
<circle cx="83" cy="636.4" r="1.9" fill="none" stroke="#134e8a" stroke-width="1"/>
<circle cx="78.4" cy="642.2" r="1.9" fill="none" stroke="#134e8a" stroke-width="1"/>
<line x1="72.8" y1="630.4" x2="84" y2="630.4" stroke="#134e8a" stroke-width="1.2"/>
<line x1="78.4" y1="625.6" x2="78.4" y2="635.2" stroke="#134e8a" stroke-width="1"/>
<line x1="75.7" y1="625.6" x2="81.1" y2="625.6" stroke="#134e8a" stroke-width="1"/>
<line x1="75.7" y1="635.2" x2="81.1" y2="635.2" stroke="#134e8a" stroke-width="1"/>
<rect x="89.5" y="616.1" width="4" height="4" fill="#3bb54a"/>
<rect x="96.3" y="620" width="4" height="4" fill="#3bb54a"/>
<rect x="89.5" y="622.2" width="4" height="4" fill="#3bb54a"/>
<rect x="93" y="623.6" width="4" height="4" fill="#3bb54a"/>
<rect x="96.3" y="627" width="4" height="4" fill="#3bb54a"/>
<rect x="89.5" y="629.4" width="4" height="4" fill="#3bb54a"/>
<line x1="89.5" y1="624.9" x2="100.5" y2="624.9" stroke="#3bb54a" stroke-width="1.1"/>
<rect x="108.2" y="624.5" width="4.2" height="4.2" fill="none" stroke="#5c2670" stroke-width="0.9"/>
<rect x="105.6" y="628.3" width="4.2" height="4.2" fill="none" stroke="#5c2670" stroke-width="0.9"/>
<rect x="111.4" y="632.6" width="4.2" height="4.2" fill="none" stroke="#5c2670" stroke-width="0.9"/>
<rect x="105.6" y="635.8" width="4.2" height="4.2" fill="none" stroke="#5c2670" stroke-width="0.9"/>
<rect x="109.2" y="632.9" width="4.2" height="4.2" fill="none" stroke="#5c2670" stroke-width="0.9"/>
<rect x="112.8" y="632.9" width="4.2" height="4.2" fill="none" stroke="#5c2670" stroke-width="0.9"/>
<line x1="105.5" y1="634.7" x2="116.5" y2="634.7" stroke="#5c2670" stroke-width="1.1"/>
<rect x="142.5" y="555.2" width="1.9" height="7.5" fill="#111"/>
<line x1="192" y1="569.9" x2="192" y2="673.4" stroke="#2e2e2e" stroke-width="1.3"/>
<line x1="191.5" y1="672.9" x2="253" y2="672.9" stroke="#2e2e2e" stroke-width="1.3"/>
<line x1="188.8" y1="672.9" x2="192" y2="672.9" stroke="#2e2e2e" stroke-width="1"/>
<text x="173.8" y="675.4" font-size="8.2" fill="#2e2e2e" textLength="11.4" lengthAdjust="spacingAndGlyphs" stroke="#2e2e2e" stroke-width="0.1">0.0</text>
<line x1="188.8" y1="629.8" x2="192" y2="629.8" stroke="#2e2e2e" stroke-width="1"/>
<text x="173.8" y="632.3" font-size="8.2" fill="#2e2e2e" textLength="11.4" lengthAdjust="spacingAndGlyphs" stroke="#2e2e2e" stroke-width="0.1">0.5</text>
<line x1="188.8" y1="586.7" x2="192" y2="586.7" stroke="#2e2e2e" stroke-width="1"/>
<text x="173.8" y="589.2" font-size="8.2" fill="#2e2e2e" textLength="11.4" lengthAdjust="spacingAndGlyphs" stroke="#2e2e2e" stroke-width="0.1">1.0</text>
<line x1="208.6" y1="672.9" x2="208.6" y2="675.7" stroke="#2e2e2e" stroke-width="1"/>
<line x1="235.9" y1="672.9" x2="235.9" y2="675.7" stroke="#2e2e2e" stroke-width="1"/>
<text x="202.4" y="685.4" font-size="7.8" fill="#2e2e2e" textLength="13.5" lengthAdjust="spacingAndGlyphs" stroke="#2e2e2e" stroke-width="0.1">Veh</text>
<text x="225.7" y="685.4" font-size="7.8" fill="#2e2e2e" textLength="19.3" lengthAdjust="spacingAndGlyphs" stroke="#2e2e2e" stroke-width="0.1">R + P</text>
<g transform="translate(157.5,620.4) rotate(-90)"><text x="-39.75" y="0" font-size="8.8" fill="#2e2e2e" stroke="#2e2e2e" stroke-width="0.1" textLength="79.5" lengthAdjust="spacingAndGlyphs">Fold change normalized</text></g>
<g transform="translate(168,621.3) rotate(-90)"><text x="-16.25" y="0" font-size="8.8" fill="#2e2e2e" stroke="#2e2e2e" stroke-width="0.1" textLength="32.5" lengthAdjust="spacingAndGlyphs">to control</text></g>
<polyline points="208.6,590.6 208.6,569.9 235.9,569.9 235.9,575" fill="none" stroke="#444" stroke-width="0.9"/>
<circle cx="222.4" cy="566" r="1" fill="#333"/>
<circle cx="208.6" cy="606.7" r="2" fill="#c8203a"/>
<circle cx="208.6" cy="616.6" r="2" fill="#c8203a"/>
<circle cx="208.6" cy="627.7" r="2" fill="#c8203a"/>
<circle cx="208.6" cy="634.8" r="2" fill="#c8203a"/>
<circle cx="208.6" cy="640" r="2" fill="#c8203a"/>
<line x1="199.8" y1="624.9" x2="217.4" y2="624.9" stroke="#c8203a" stroke-width="1.2"/>
<line x1="208.6" y1="619.2" x2="208.6" y2="630.9" stroke="#c8203a" stroke-width="1"/>
<line x1="204.3" y1="619.2" x2="212.9" y2="619.2" stroke="#c8203a" stroke-width="1"/>
<line x1="204.3" y1="630.9" x2="212.9" y2="630.9" stroke="#c8203a" stroke-width="1"/>
<rect x="233.9" y="582.1" width="4" height="4" fill="#134e8a"/>
<rect x="229.4" y="590.7" width="4" height="4" fill="#134e8a"/>
<rect x="238" y="588.6" width="4" height="4" fill="#134e8a"/>
<rect x="233.9" y="604.7" width="4" height="4" fill="#134e8a"/>
<rect x="233.9" y="617.2" width="4" height="4" fill="#134e8a"/>
<line x1="227.2" y1="598.9" x2="244.6" y2="598.9" stroke="#134e8a" stroke-width="1.2"/>
<line x1="235.9" y1="592.7" x2="235.9" y2="604.9" stroke="#134e8a" stroke-width="1"/>
<line x1="231.6" y1="592.7" x2="240.2" y2="592.7" stroke="#134e8a" stroke-width="1"/>
<line x1="231.6" y1="604.9" x2="240.2" y2="604.9" stroke="#134e8a" stroke-width="1"/>
<text x="269.9" y="562.6" font-size="10.61" font-weight="bold" fill="#111" stroke="#111" stroke-width="0.2" textLength="5" lengthAdjust="spacingAndGlyphs">J</text>
<line x1="316" y1="569.9" x2="316" y2="673.4" stroke="#2e2e2e" stroke-width="1.3"/>
<line x1="315.5" y1="672.9" x2="377" y2="672.9" stroke="#2e2e2e" stroke-width="1.3"/>
<line x1="312.8" y1="672.9" x2="316" y2="672.9" stroke="#2e2e2e" stroke-width="1"/>
<text x="309.6" y="675.4" font-size="8.2" fill="#2e2e2e" text-anchor="end" stroke="#2e2e2e" stroke-width="0.1">0</text>
<line x1="312.8" y1="647.15" x2="316" y2="647.15" stroke="#2e2e2e" stroke-width="1"/>
<text x="309.6" y="649.65" font-size="8.2" fill="#2e2e2e" text-anchor="end" stroke="#2e2e2e" stroke-width="0.1">100</text>
<line x1="312.8" y1="621.4" x2="316" y2="621.4" stroke="#2e2e2e" stroke-width="1"/>
<text x="309.6" y="623.9" font-size="8.2" fill="#2e2e2e" text-anchor="end" stroke="#2e2e2e" stroke-width="0.1">200</text>
<line x1="312.8" y1="595.65" x2="316" y2="595.65" stroke="#2e2e2e" stroke-width="1"/>
<text x="309.6" y="598.15" font-size="8.2" fill="#2e2e2e" text-anchor="end" stroke="#2e2e2e" stroke-width="0.1">300</text>
<line x1="312.8" y1="569.9" x2="316" y2="569.9" stroke="#2e2e2e" stroke-width="1"/>
<text x="309.6" y="572.4" font-size="8.2" fill="#2e2e2e" text-anchor="end" stroke="#2e2e2e" stroke-width="0.1">400</text>
<line x1="333.4" y1="672.9" x2="333.4" y2="675.7" stroke="#2e2e2e" stroke-width="1"/>
<line x1="360.1" y1="672.9" x2="360.1" y2="675.7" stroke="#2e2e2e" stroke-width="1"/>
<text x="319.9" y="685.4" font-size="7.8" fill="#2e2e2e" textLength="27.3" lengthAdjust="spacingAndGlyphs" stroke="#2e2e2e" stroke-width="0.1">Control</text>
<text x="352.4" y="685.4" font-size="7.8" fill="#2e2e2e" textLength="14.7" lengthAdjust="spacingAndGlyphs" stroke="#2e2e2e" stroke-width="0.1">KD1</text>
<g transform="translate(290.5,620.5) rotate(-90)"><text x="-42.4" y="0" font-size="8.7" fill="#2e2e2e" stroke="#2e2e2e" stroke-width="0.1" textLength="84.8" lengthAdjust="spacingAndGlyphs">Mitochondrial mass (MFI)</text></g>
<polyline points="333.4,575 333.4,569.9 360.1,569.9 360.1,586.7" fill="none" stroke="#444" stroke-width="0.9"/>
<circle cx="346.4" cy="565.4" r="1" fill="#333"/>
<circle cx="333.4" cy="586.2" r="2" fill="#c8203a"/>
<circle cx="333.4" cy="591.4" r="2" fill="#c8203a"/>
<circle cx="333.4" cy="596.3" r="2" fill="#c8203a"/>
<circle cx="333.4" cy="601" r="2" fill="#c8203a"/>
<circle cx="333.4" cy="614" r="2" fill="#c8203a"/>
<circle cx="333.4" cy="630.9" r="2" fill="#c8203a"/>
<line x1="324.1" y1="603.1" x2="342.7" y2="603.1" stroke="#c8203a" stroke-width="1.2"/>
<line x1="333.4" y1="595.8" x2="333.4" y2="610.1" stroke="#c8203a" stroke-width="1"/>
<line x1="329.1" y1="595.8" x2="337.7" y2="595.8" stroke="#c8203a" stroke-width="1"/>
<line x1="329.1" y1="610.1" x2="337.7" y2="610.1" stroke="#c8203a" stroke-width="1"/>
<rect x="358.1" y="593.8" width="4" height="4" fill="#134e8a"/>
<rect x="358.1" y="597.2" width="4" height="4" fill="#134e8a"/>
<rect x="358.1" y="605" width="4" height="4" fill="#134e8a"/>
<rect x="358.1" y="613.3" width="4" height="4" fill="#134e8a"/>
<rect x="358.1" y="621.6" width="4" height="4" fill="#134e8a"/>
<rect x="358.1" y="635.4" width="4" height="4" fill="#134e8a"/>
<line x1="350.5" y1="613.2" x2="368.7" y2="613.2" stroke="#134e8a" stroke-width="1.2"/>
<line x1="359.6" y1="607" x2="359.6" y2="619.2" stroke="#134e8a" stroke-width="1"/>
<line x1="355.3" y1="607" x2="363.9" y2="607" stroke="#134e8a" stroke-width="1"/>
<line x1="355.3" y1="619.2" x2="363.9" y2="619.2" stroke="#134e8a" stroke-width="1"/>
<text x="393.3" y="562.7" font-size="10.75" font-weight="bold" fill="#111" stroke="#111" stroke-width="0.2" textLength="7.3" lengthAdjust="spacingAndGlyphs">K</text>
<line x1="435.1" y1="569.1" x2="435.1" y2="673.4" stroke="#2e2e2e" stroke-width="1.3"/>
<line x1="434.6" y1="672.9" x2="496.6" y2="672.9" stroke="#2e2e2e" stroke-width="1.3"/>
<line x1="431.9" y1="672.9" x2="435.1" y2="672.9" stroke="#2e2e2e" stroke-width="1"/>
<text x="429.1" y="675.4" font-size="8.2" fill="#2e2e2e" text-anchor="end" stroke="#2e2e2e" stroke-width="0.1">0</text>
<line x1="431.9" y1="652.14" x2="435.1" y2="652.14" stroke="#2e2e2e" stroke-width="1"/>
<text x="429.1" y="654.64" font-size="8.2" fill="#2e2e2e" text-anchor="end" stroke="#2e2e2e" stroke-width="0.1">50</text>
<line x1="431.9" y1="631.38" x2="435.1" y2="631.38" stroke="#2e2e2e" stroke-width="1"/>
<text x="429.1" y="633.88" font-size="8.2" fill="#2e2e2e" text-anchor="end" stroke="#2e2e2e" stroke-width="0.1">100</text>
<line x1="431.9" y1="610.62" x2="435.1" y2="610.62" stroke="#2e2e2e" stroke-width="1"/>
<text x="429.1" y="613.12" font-size="8.2" fill="#2e2e2e" text-anchor="end" stroke="#2e2e2e" stroke-width="0.1">150</text>
<line x1="431.9" y1="589.86" x2="435.1" y2="589.86" stroke="#2e2e2e" stroke-width="1"/>
<text x="429.1" y="592.36" font-size="8.2" fill="#2e2e2e" text-anchor="end" stroke="#2e2e2e" stroke-width="0.1">200</text>
<line x1="431.9" y1="569.1" x2="435.1" y2="569.1" stroke="#2e2e2e" stroke-width="1"/>
<text x="429.1" y="571.6" font-size="8.2" fill="#2e2e2e" text-anchor="end" stroke="#2e2e2e" stroke-width="0.1">250</text>
<line x1="453" y1="672.9" x2="453" y2="675.7" stroke="#2e2e2e" stroke-width="1"/>
<line x1="479.8" y1="672.9" x2="479.8" y2="675.7" stroke="#2e2e2e" stroke-width="1"/>
<text x="439.5" y="685.4" font-size="7.8" fill="#2e2e2e" textLength="26.5" lengthAdjust="spacingAndGlyphs" stroke="#2e2e2e" stroke-width="0.1">Control</text>
<text x="472" y="685.4" font-size="7.8" fill="#2e2e2e" textLength="14.8" lengthAdjust="spacingAndGlyphs" stroke="#2e2e2e" stroke-width="0.1">KD1</text>
<g transform="translate(410.5,621) rotate(-90)"><text x="-41.5" y="0" font-size="8.7" fill="#2e2e2e" stroke="#2e2e2e" stroke-width="0.1" textLength="83" lengthAdjust="spacingAndGlyphs">Mitochondrial ROS (MFI)</text></g>
<polyline points="453,580.2 453,569.1 479.8,569.1 479.8,591.9" fill="none" stroke="#444" stroke-width="0.9"/>
<circle cx="466.3" cy="565.4" r="1" fill="#333"/>
<circle cx="446" cy="586.7" r="2" fill="#c8203a"/>
<circle cx="453" cy="590.6" r="2" fill="#c8203a"/>
<circle cx="459.8" cy="588.8" r="2" fill="#c8203a"/>
<circle cx="448.6" cy="598.4" r="2" fill="#c8203a"/>
<circle cx="459.8" cy="599.2" r="2" fill="#c8203a"/>
<circle cx="453" cy="608.3" r="2" fill="#c8203a"/>
<line x1="444.1" y1="595.3" x2="462.1" y2="595.3" stroke="#c8203a" stroke-width="1.2"/>
<line x1="453.1" y1="592.7" x2="453.1" y2="599.2" stroke="#c8203a" stroke-width="1"/>
<line x1="448.8" y1="592.7" x2="457.4" y2="592.7" stroke="#c8203a" stroke-width="1"/>
<line x1="448.8" y1="599.2" x2="457.4" y2="599.2" stroke="#c8203a" stroke-width="1"/>
<rect x="477.8" y="597.2" width="4" height="4" fill="#134e8a"/>
<rect x="473.3" y="602.9" width="4" height="4" fill="#134e8a"/>
<rect x="481.6" y="605" width="4" height="4" fill="#134e8a"/>
<rect x="473.3" y="608.1" width="4" height="4" fill="#134e8a"/>
<rect x="481.6" y="612" width="4" height="4" fill="#134e8a"/>
<rect x="477.8" y="621.6" width="4" height="4" fill="#134e8a"/>
<line x1="470.7" y1="610.1" x2="488.3" y2="610.1" stroke="#134e8a" stroke-width="1.2"/>
<line x1="479.5" y1="606.2" x2="479.5" y2="613.5" stroke="#134e8a" stroke-width="1"/>
<line x1="475.2" y1="606.2" x2="483.8" y2="606.2" stroke="#134e8a" stroke-width="1"/>
<line x1="475.2" y1="613.5" x2="483.8" y2="613.5" stroke="#134e8a" stroke-width="1"/>
<rect x="0" y="0" width="520" height="1.1" fill="#161214"/><rect x="0" y="0" width="1.1" height="706" fill="#161214"/><rect x="518.8" y="0" width="1.2" height="706" fill="#161214"/><rect x="0" y="704.8" width="520" height="1.2" fill="#161214"/>
</svg>
</body></html>
